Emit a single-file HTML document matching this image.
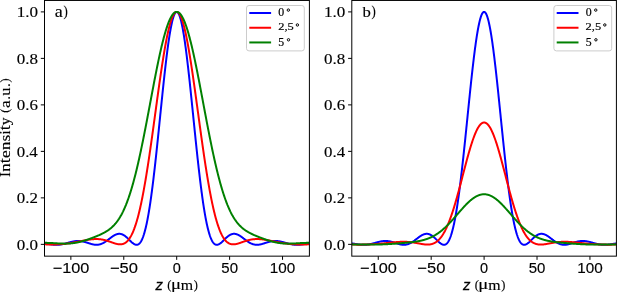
<!DOCTYPE html>
<html><head><meta charset="utf-8"><style>
html,body{margin:0;padding:0;background:#fff;}
body{width:617px;height:294px;position:relative;overflow:hidden;}
</style></head><body>
<svg width="617" height="294" viewBox="0 0 617 294" style="position:absolute;left:0;top:0">
<defs>
<clipPath id="clipa"><rect x="44.5" y="0.45" width="264.90" height="255.70"/></clipPath>
<clipPath id="clipb"><rect x="351.8" y="0.45" width="264.60" height="255.70"/></clipPath>
</defs>
<g clip-path="url(#clipa)" fill="none" stroke-width="2" stroke-linejoin="round" stroke-linecap="butt">
<path d="M44.40,243.39 L44.66,243.43 L44.93,243.47 L45.19,243.51 L45.46,243.55 L45.72,243.59 L45.99,243.63 L46.25,243.67 L46.52,243.71 L46.78,243.75 L47.05,243.80 L47.31,243.84 L47.58,243.88 L47.84,243.92 L48.10,243.97 L48.37,244.01 L48.63,244.05 L48.90,244.09 L49.16,244.13 L49.43,244.17 L49.69,244.21 L49.96,244.25 L50.22,244.29 L50.49,244.33 L50.75,244.37 L51.01,244.40 L51.28,244.44 L51.54,244.47 L51.81,244.50 L52.07,244.53 L52.34,244.56 L52.60,244.59 L52.87,244.62 L53.13,244.64 L53.40,244.67 L53.66,244.69 L53.93,244.71 L54.19,244.73 L54.45,244.74 L54.72,244.76 L54.98,244.77 L55.25,244.78 L55.51,244.79 L55.78,244.79 L56.04,244.80 L56.31,244.80 L56.57,244.80 L56.84,244.80 L57.10,244.79 L57.37,244.78 L57.63,244.77 L57.89,244.76 L58.16,244.75 L58.42,244.73 L58.69,244.71 L58.95,244.69 L59.22,244.66 L59.48,244.64 L59.75,244.61 L60.01,244.58 L60.28,244.54 L60.54,244.51 L60.81,244.47 L61.07,244.43 L61.33,244.39 L61.60,244.34 L61.86,244.30 L62.13,244.25 L62.39,244.20 L62.66,244.15 L62.92,244.09 L63.19,244.03 L63.45,243.98 L63.72,243.92 L63.98,243.86 L64.24,243.79 L64.51,243.73 L64.77,243.66 L65.04,243.60 L65.30,243.53 L65.57,243.46 L65.83,243.39 L66.10,243.32 L66.36,243.25 L66.63,243.17 L66.89,243.10 L67.16,243.03 L67.42,242.95 L67.68,242.88 L67.95,242.81 L68.21,242.73 L68.48,242.66 L68.74,242.58 L69.01,242.51 L69.27,242.44 L69.54,242.36 L69.80,242.29 L70.07,242.22 L70.33,242.15 L70.60,242.08 L70.86,242.01 L71.12,241.95 L71.39,241.88 L71.65,241.82 L71.92,241.75 L72.18,241.69 L72.45,241.63 L72.71,241.58 L72.98,241.52 L73.24,241.47 L73.51,241.42 L73.77,241.37 L74.04,241.32 L74.30,241.28 L74.56,241.24 L74.83,241.20 L75.09,241.16 L75.36,241.13 L75.62,241.10 L75.89,241.07 L76.15,241.05 L76.42,241.02 L76.68,241.01 L76.95,240.99 L77.21,240.98 L77.47,240.97 L77.74,240.96 L78.00,240.96 L78.27,240.96 L78.53,240.97 L78.80,240.97 L79.06,240.99 L79.33,241.00 L79.59,241.02 L79.86,241.04 L80.12,241.06 L80.39,241.09 L80.65,241.12 L80.91,241.15 L81.18,241.19 L81.44,241.23 L81.71,241.27 L81.97,241.32 L82.24,241.37 L82.50,241.42 L82.77,241.48 L83.03,241.53 L83.30,241.59 L83.56,241.66 L83.83,241.72 L84.09,241.79 L84.35,241.86 L84.62,241.93 L84.88,242.00 L85.15,242.08 L85.41,242.16 L85.68,242.23 L85.94,242.31 L86.21,242.40 L86.47,242.48 L86.74,242.56 L87.00,242.65 L87.27,242.73 L87.53,242.82 L87.79,242.90 L88.06,242.99 L88.32,243.07 L88.59,243.16 L88.85,243.25 L89.12,243.33 L89.38,243.42 L89.65,243.50 L89.91,243.58 L90.18,243.66 L90.44,243.74 L90.70,243.82 L90.97,243.90 L91.23,243.97 L91.50,244.05 L91.76,244.12 L92.03,244.18 L92.29,244.25 L92.56,244.31 L92.82,244.37 L93.09,244.43 L93.35,244.48 L93.62,244.53 L93.88,244.57 L94.14,244.62 L94.41,244.65 L94.67,244.69 L94.94,244.72 L95.20,244.74 L95.47,244.76 L95.73,244.78 L96.00,244.79 L96.26,244.80 L96.53,244.80 L96.79,244.80 L97.06,244.79 L97.32,244.77 L97.58,244.75 L97.85,244.73 L98.11,244.70 L98.38,244.66 L98.64,244.62 L98.91,244.57 L99.17,244.52 L99.44,244.46 L99.70,244.40 L99.97,244.33 L100.23,244.25 L100.50,244.17 L100.76,244.09 L101.02,243.99 L101.29,243.89 L101.55,243.79 L101.82,243.68 L102.08,243.57 L102.35,243.45 L102.61,243.32 L102.88,243.19 L103.14,243.05 L103.41,242.91 L103.67,242.77 L103.93,242.62 L104.20,242.46 L104.46,242.30 L104.73,242.14 L104.99,241.97 L105.26,241.80 L105.52,241.62 L105.79,241.45 L106.05,241.26 L106.32,241.08 L106.58,240.89 L106.85,240.70 L107.11,240.51 L107.37,240.31 L107.64,240.11 L107.90,239.91 L108.17,239.71 L108.43,239.51 L108.70,239.31 L108.96,239.11 L109.23,238.90 L109.49,238.70 L109.76,238.50 L110.02,238.29 L110.29,238.09 L110.55,237.89 L110.81,237.69 L111.08,237.49 L111.34,237.30 L111.61,237.10 L111.87,236.91 L112.14,236.73 L112.40,236.54 L112.67,236.36 L112.93,236.18 L113.20,236.01 L113.46,235.84 L113.73,235.68 L113.99,235.52 L114.25,235.37 L114.52,235.22 L114.78,235.08 L115.05,234.94 L115.31,234.82 L115.58,234.69 L115.84,234.58 L116.11,234.47 L116.37,234.37 L116.64,234.28 L116.90,234.19 L117.16,234.11 L117.43,234.04 L117.69,233.98 L117.96,233.93 L118.22,233.89 L118.49,233.86 L118.75,233.83 L119.02,233.82 L119.28,233.81 L119.55,233.81 L119.81,233.83 L120.08,233.85 L120.34,233.88 L120.60,233.92 L120.87,233.97 L121.13,234.03 L121.40,234.10 L121.66,234.18 L121.93,234.27 L122.19,234.37 L122.46,234.48 L122.72,234.60 L122.99,234.73 L123.25,234.86 L123.52,235.01 L123.78,235.16 L124.04,235.33 L124.31,235.50 L124.57,235.68 L124.84,235.86 L125.10,236.06 L125.37,236.26 L125.63,236.47 L125.90,236.68 L126.16,236.91 L126.43,237.13 L126.69,237.37 L126.96,237.60 L127.22,237.85 L127.48,238.09 L127.75,238.35 L128.01,238.60 L128.28,238.86 L128.54,239.12 L128.81,239.38 L129.07,239.64 L129.34,239.90 L129.60,240.17 L129.87,240.43 L130.13,240.69 L130.39,240.95 L130.66,241.21 L130.92,241.46 L131.19,241.71 L131.45,241.96 L131.72,242.20 L131.98,242.44 L132.25,242.66 L132.51,242.89 L132.78,243.10 L133.04,243.30 L133.31,243.50 L133.57,243.68 L133.83,243.85 L134.10,244.02 L134.36,244.16 L134.63,244.30 L134.89,244.42 L135.16,244.53 L135.42,244.62 L135.69,244.69 L135.95,244.74 L136.22,244.78 L136.48,244.80 L136.75,244.80 L137.01,244.77 L137.27,244.73 L137.54,244.66 L137.80,244.57 L138.07,244.46 L138.33,244.32 L138.60,244.16 L138.86,243.97 L139.13,243.75 L139.39,243.50 L139.66,243.23 L139.92,242.93 L140.19,242.60 L140.45,242.23 L140.71,241.84 L140.98,241.42 L141.24,240.96 L141.51,240.47 L141.77,239.94 L142.04,239.38 L142.30,238.79 L142.57,238.16 L142.83,237.49 L143.10,236.79 L143.36,236.05 L143.62,235.28 L143.89,234.47 L144.15,233.62 L144.42,232.73 L144.68,231.80 L144.95,230.83 L145.21,229.82 L145.48,228.78 L145.74,227.69 L146.01,226.57 L146.27,225.40 L146.54,224.19 L146.80,222.95 L147.06,221.66 L147.33,220.33 L147.59,218.97 L147.86,217.56 L148.12,216.11 L148.39,214.62 L148.65,213.09 L148.92,211.53 L149.18,209.92 L149.45,208.27 L149.71,206.59 L149.98,204.86 L150.24,203.10 L150.50,201.30 L150.77,199.46 L151.03,197.59 L151.30,195.68 L151.56,193.73 L151.83,191.75 L152.09,189.73 L152.36,187.68 L152.62,185.59 L152.89,183.48 L153.15,181.33 L153.42,179.15 L153.68,176.94 L153.94,174.70 L154.21,172.43 L154.47,170.14 L154.74,167.81 L155.00,165.47 L155.27,163.10 L155.53,160.70 L155.80,158.28 L156.06,155.84 L156.33,153.38 L156.59,150.91 L156.85,148.41 L157.12,145.90 L157.38,143.37 L157.65,140.83 L157.91,138.28 L158.18,135.71 L158.44,133.13 L158.71,130.55 L158.97,127.96 L159.24,125.36 L159.50,122.76 L159.77,120.15 L160.03,117.55 L160.29,114.94 L160.56,112.34 L160.82,109.73 L161.09,107.13 L161.35,104.54 L161.62,101.96 L161.88,99.38 L162.15,96.81 L162.41,94.26 L162.68,91.72 L162.94,89.19 L163.21,86.68 L163.47,84.19 L163.73,81.72 L164.00,79.26 L164.26,76.84 L164.53,74.43 L164.79,72.05 L165.06,69.70 L165.32,67.37 L165.59,65.08 L165.85,62.82 L166.12,60.59 L166.38,58.39 L166.65,56.23 L166.91,54.11 L167.17,52.03 L167.44,49.98 L167.70,47.98 L167.97,46.02 L168.23,44.10 L168.50,42.23 L168.76,40.40 L169.03,38.62 L169.29,36.89 L169.56,35.21 L169.82,33.58 L170.08,32.01 L170.35,30.48 L170.61,29.01 L170.88,27.60 L171.14,26.24 L171.41,24.93 L171.67,23.69 L171.94,22.50 L172.20,21.38 L172.47,20.31 L172.73,19.31 L173.00,18.36 L173.26,17.48 L173.52,16.66 L173.79,15.91 L174.05,15.21 L174.32,14.59 L174.58,14.03 L174.85,13.53 L175.11,13.10 L175.38,12.73 L175.64,12.43 L175.91,12.20 L176.17,12.03 L176.44,11.93 L176.70,11.90 L176.96,11.93 L177.23,12.03 L177.49,12.20 L177.76,12.43 L178.02,12.73 L178.29,13.10 L178.55,13.53 L178.82,14.03 L179.08,14.59 L179.35,15.21 L179.61,15.91 L179.88,16.66 L180.14,17.48 L180.40,18.36 L180.67,19.31 L180.93,20.31 L181.20,21.38 L181.46,22.50 L181.73,23.69 L181.99,24.93 L182.26,26.24 L182.52,27.60 L182.79,29.01 L183.05,30.48 L183.31,32.01 L183.58,33.58 L183.84,35.21 L184.11,36.89 L184.37,38.62 L184.64,40.40 L184.90,42.23 L185.17,44.10 L185.43,46.02 L185.70,47.98 L185.96,49.98 L186.23,52.03 L186.49,54.11 L186.75,56.23 L187.02,58.39 L187.28,60.59 L187.55,62.82 L187.81,65.08 L188.08,67.37 L188.34,69.70 L188.61,72.05 L188.87,74.43 L189.14,76.84 L189.40,79.26 L189.67,81.72 L189.93,84.19 L190.19,86.68 L190.46,89.19 L190.72,91.72 L190.99,94.26 L191.25,96.81 L191.52,99.38 L191.78,101.96 L192.05,104.54 L192.31,107.13 L192.58,109.73 L192.84,112.34 L193.11,114.94 L193.37,117.55 L193.63,120.15 L193.90,122.76 L194.16,125.36 L194.43,127.96 L194.69,130.55 L194.96,133.13 L195.22,135.71 L195.49,138.28 L195.75,140.83 L196.02,143.37 L196.28,145.90 L196.54,148.41 L196.81,150.91 L197.07,153.38 L197.34,155.84 L197.60,158.28 L197.87,160.70 L198.13,163.10 L198.40,165.47 L198.66,167.81 L198.93,170.14 L199.19,172.43 L199.46,174.70 L199.72,176.94 L199.98,179.15 L200.25,181.33 L200.51,183.48 L200.78,185.59 L201.04,187.68 L201.31,189.73 L201.57,191.75 L201.84,193.73 L202.10,195.68 L202.37,197.59 L202.63,199.46 L202.90,201.30 L203.16,203.10 L203.42,204.86 L203.69,206.59 L203.95,208.27 L204.22,209.92 L204.48,211.53 L204.75,213.09 L205.01,214.62 L205.28,216.11 L205.54,217.56 L205.81,218.97 L206.07,220.33 L206.34,221.66 L206.60,222.95 L206.86,224.19 L207.13,225.40 L207.39,226.57 L207.66,227.69 L207.92,228.78 L208.19,229.82 L208.45,230.83 L208.72,231.80 L208.98,232.73 L209.25,233.62 L209.51,234.47 L209.77,235.28 L210.04,236.05 L210.30,236.79 L210.57,237.49 L210.83,238.16 L211.10,238.79 L211.36,239.38 L211.63,239.94 L211.89,240.47 L212.16,240.96 L212.42,241.42 L212.69,241.84 L212.95,242.23 L213.21,242.60 L213.48,242.93 L213.74,243.23 L214.01,243.50 L214.27,243.75 L214.54,243.97 L214.80,244.16 L215.07,244.32 L215.33,244.46 L215.60,244.57 L215.86,244.66 L216.13,244.73 L216.39,244.77 L216.65,244.80 L216.92,244.80 L217.18,244.78 L217.45,244.74 L217.71,244.69 L217.98,244.62 L218.24,244.53 L218.51,244.42 L218.77,244.30 L219.04,244.16 L219.30,244.02 L219.57,243.85 L219.83,243.68 L220.09,243.50 L220.36,243.30 L220.62,243.10 L220.89,242.89 L221.15,242.66 L221.42,242.44 L221.68,242.20 L221.95,241.96 L222.21,241.71 L222.48,241.46 L222.74,241.21 L223.00,240.95 L223.27,240.69 L223.53,240.43 L223.80,240.17 L224.06,239.90 L224.33,239.64 L224.59,239.38 L224.86,239.12 L225.12,238.86 L225.39,238.60 L225.65,238.35 L225.92,238.09 L226.18,237.85 L226.44,237.60 L226.71,237.37 L226.97,237.13 L227.24,236.91 L227.50,236.68 L227.77,236.47 L228.03,236.26 L228.30,236.06 L228.56,235.86 L228.83,235.68 L229.09,235.50 L229.36,235.33 L229.62,235.16 L229.88,235.01 L230.15,234.86 L230.41,234.73 L230.68,234.60 L230.94,234.48 L231.21,234.37 L231.47,234.27 L231.74,234.18 L232.00,234.10 L232.27,234.03 L232.53,233.97 L232.80,233.92 L233.06,233.88 L233.32,233.85 L233.59,233.83 L233.85,233.81 L234.12,233.81 L234.38,233.82 L234.65,233.83 L234.91,233.86 L235.18,233.89 L235.44,233.93 L235.71,233.98 L235.97,234.04 L236.23,234.11 L236.50,234.19 L236.76,234.28 L237.03,234.37 L237.29,234.47 L237.56,234.58 L237.82,234.69 L238.09,234.82 L238.35,234.94 L238.62,235.08 L238.88,235.22 L239.15,235.37 L239.41,235.52 L239.67,235.68 L239.94,235.84 L240.20,236.01 L240.47,236.18 L240.73,236.36 L241.00,236.54 L241.26,236.73 L241.53,236.91 L241.79,237.10 L242.06,237.30 L242.32,237.49 L242.59,237.69 L242.85,237.89 L243.11,238.09 L243.38,238.29 L243.64,238.50 L243.91,238.70 L244.17,238.90 L244.44,239.11 L244.70,239.31 L244.97,239.51 L245.23,239.71 L245.50,239.91 L245.76,240.11 L246.03,240.31 L246.29,240.51 L246.55,240.70 L246.82,240.89 L247.08,241.08 L247.35,241.26 L247.61,241.45 L247.88,241.62 L248.14,241.80 L248.41,241.97 L248.67,242.14 L248.94,242.30 L249.20,242.46 L249.46,242.62 L249.73,242.77 L249.99,242.91 L250.26,243.05 L250.52,243.19 L250.79,243.32 L251.05,243.45 L251.32,243.57 L251.58,243.68 L251.85,243.79 L252.11,243.89 L252.38,243.99 L252.64,244.09 L252.90,244.17 L253.17,244.25 L253.43,244.33 L253.70,244.40 L253.96,244.46 L254.23,244.52 L254.49,244.57 L254.76,244.62 L255.02,244.66 L255.29,244.70 L255.55,244.73 L255.82,244.75 L256.08,244.77 L256.34,244.79 L256.61,244.80 L256.87,244.80 L257.14,244.80 L257.40,244.79 L257.67,244.78 L257.93,244.76 L258.20,244.74 L258.46,244.72 L258.73,244.69 L258.99,244.65 L259.26,244.62 L259.52,244.57 L259.78,244.53 L260.05,244.48 L260.31,244.43 L260.58,244.37 L260.84,244.31 L261.11,244.25 L261.37,244.18 L261.64,244.12 L261.90,244.05 L262.17,243.97 L262.43,243.90 L262.69,243.82 L262.96,243.74 L263.22,243.66 L263.49,243.58 L263.75,243.50 L264.02,243.42 L264.28,243.33 L264.55,243.25 L264.81,243.16 L265.08,243.07 L265.34,242.99 L265.61,242.90 L265.87,242.82 L266.13,242.73 L266.40,242.65 L266.66,242.56 L266.93,242.48 L267.19,242.40 L267.46,242.31 L267.72,242.23 L267.99,242.16 L268.25,242.08 L268.52,242.00 L268.78,241.93 L269.05,241.86 L269.31,241.79 L269.57,241.72 L269.84,241.66 L270.10,241.59 L270.37,241.53 L270.63,241.48 L270.90,241.42 L271.16,241.37 L271.43,241.32 L271.69,241.27 L271.96,241.23 L272.22,241.19 L272.49,241.15 L272.75,241.12 L273.01,241.09 L273.28,241.06 L273.54,241.04 L273.81,241.02 L274.07,241.00 L274.34,240.99 L274.60,240.97 L274.87,240.97 L275.13,240.96 L275.40,240.96 L275.66,240.96 L275.92,240.97 L276.19,240.98 L276.45,240.99 L276.72,241.01 L276.98,241.02 L277.25,241.05 L277.51,241.07 L277.78,241.10 L278.04,241.13 L278.31,241.16 L278.57,241.20 L278.84,241.24 L279.10,241.28 L279.36,241.32 L279.63,241.37 L279.89,241.42 L280.16,241.47 L280.42,241.52 L280.69,241.58 L280.95,241.63 L281.22,241.69 L281.48,241.75 L281.75,241.82 L282.01,241.88 L282.28,241.95 L282.54,242.01 L282.80,242.08 L283.07,242.15 L283.33,242.22 L283.60,242.29 L283.86,242.36 L284.13,242.44 L284.39,242.51 L284.66,242.58 L284.92,242.66 L285.19,242.73 L285.45,242.81 L285.72,242.88 L285.98,242.95 L286.24,243.03 L286.51,243.10 L286.77,243.17 L287.04,243.25 L287.30,243.32 L287.57,243.39 L287.83,243.46 L288.10,243.53 L288.36,243.60 L288.63,243.66 L288.89,243.73 L289.15,243.79 L289.42,243.86 L289.68,243.92 L289.95,243.98 L290.21,244.03 L290.48,244.09 L290.74,244.15 L291.01,244.20 L291.27,244.25 L291.54,244.30 L291.80,244.34 L292.07,244.39 L292.33,244.43 L292.59,244.47 L292.86,244.51 L293.12,244.54 L293.39,244.58 L293.65,244.61 L293.92,244.64 L294.18,244.66 L294.45,244.69 L294.71,244.71 L294.98,244.73 L295.24,244.75 L295.51,244.76 L295.77,244.77 L296.03,244.78 L296.30,244.79 L296.56,244.80 L296.83,244.80 L297.09,244.80 L297.36,244.80 L297.62,244.79 L297.89,244.79 L298.15,244.78 L298.42,244.77 L298.68,244.76 L298.95,244.74 L299.21,244.73 L299.47,244.71 L299.74,244.69 L300.00,244.67 L300.27,244.64 L300.53,244.62 L300.80,244.59 L301.06,244.56 L301.33,244.53 L301.59,244.50 L301.86,244.47 L302.12,244.44 L302.38,244.40 L302.65,244.37 L302.91,244.33 L303.18,244.29 L303.44,244.25 L303.71,244.21 L303.97,244.17 L304.24,244.13 L304.50,244.09 L304.77,244.05 L305.03,244.01 L305.30,243.97 L305.56,243.92 L305.82,243.88 L306.09,243.84 L306.35,243.80 L306.62,243.75 L306.88,243.71 L307.15,243.67 L307.41,243.63 L307.68,243.59 L307.94,243.55 L308.21,243.51 L308.47,243.47 L308.74,243.43 L309.00,243.39" stroke="#0000ff"/>
<path d="M44.40,244.30 L44.66,244.31 L44.93,244.32 L45.19,244.34 L45.46,244.35 L45.72,244.36 L45.99,244.37 L46.25,244.38 L46.52,244.39 L46.78,244.40 L47.05,244.41 L47.31,244.42 L47.58,244.43 L47.84,244.44 L48.10,244.44 L48.37,244.45 L48.63,244.46 L48.90,244.46 L49.16,244.47 L49.43,244.47 L49.69,244.48 L49.96,244.48 L50.22,244.49 L50.49,244.49 L50.75,244.49 L51.01,244.49 L51.28,244.49 L51.54,244.49 L51.81,244.49 L52.07,244.49 L52.34,244.49 L52.60,244.49 L52.87,244.49 L53.13,244.49 L53.40,244.48 L53.66,244.48 L53.93,244.48 L54.19,244.47 L54.45,244.47 L54.72,244.46 L54.98,244.45 L55.25,244.45 L55.51,244.44 L55.78,244.43 L56.04,244.42 L56.31,244.41 L56.57,244.40 L56.84,244.39 L57.10,244.38 L57.37,244.37 L57.63,244.36 L57.89,244.35 L58.16,244.33 L58.42,244.32 L58.69,244.30 L58.95,244.29 L59.22,244.27 L59.48,244.26 L59.75,244.24 L60.01,244.22 L60.28,244.21 L60.54,244.19 L60.81,244.17 L61.07,244.15 L61.33,244.13 L61.60,244.11 L61.86,244.09 L62.13,244.07 L62.39,244.04 L62.66,244.02 L62.92,244.00 L63.19,243.97 L63.45,243.95 L63.72,243.92 L63.98,243.90 L64.24,243.87 L64.51,243.84 L64.77,243.81 L65.04,243.79 L65.30,243.76 L65.57,243.73 L65.83,243.70 L66.10,243.67 L66.36,243.64 L66.63,243.60 L66.89,243.57 L67.16,243.54 L67.42,243.51 L67.68,243.47 L67.95,243.44 L68.21,243.40 L68.48,243.37 L68.74,243.33 L69.01,243.29 L69.27,243.26 L69.54,243.22 L69.80,243.18 L70.07,243.14 L70.33,243.10 L70.60,243.06 L70.86,243.02 L71.12,242.98 L71.39,242.94 L71.65,242.89 L71.92,242.85 L72.18,242.81 L72.45,242.76 L72.71,242.72 L72.98,242.67 L73.24,242.63 L73.51,242.58 L73.77,242.54 L74.04,242.49 L74.30,242.44 L74.56,242.40 L74.83,242.35 L75.09,242.30 L75.36,242.25 L75.62,242.20 L75.89,242.15 L76.15,242.10 L76.42,242.05 L76.68,242.00 L76.95,241.95 L77.21,241.90 L77.47,241.85 L77.74,241.80 L78.00,241.74 L78.27,241.69 L78.53,241.64 L78.80,241.59 L79.06,241.53 L79.33,241.48 L79.59,241.43 L79.86,241.37 L80.12,241.32 L80.39,241.27 L80.65,241.21 L80.91,241.16 L81.18,241.11 L81.44,241.05 L81.71,241.00 L81.97,240.95 L82.24,240.89 L82.50,240.84 L82.77,240.79 L83.03,240.74 L83.30,240.68 L83.56,240.63 L83.83,240.58 L84.09,240.53 L84.35,240.48 L84.62,240.42 L84.88,240.37 L85.15,240.32 L85.41,240.27 L85.68,240.22 L85.94,240.18 L86.21,240.13 L86.47,240.08 L86.74,240.03 L87.00,239.99 L87.27,239.94 L87.53,239.90 L87.79,239.85 L88.06,239.81 L88.32,239.77 L88.59,239.72 L88.85,239.68 L89.12,239.64 L89.38,239.60 L89.65,239.57 L89.91,239.53 L90.18,239.49 L90.44,239.46 L90.70,239.42 L90.97,239.39 L91.23,239.36 L91.50,239.33 L91.76,239.30 L92.03,239.28 L92.29,239.25 L92.56,239.23 L92.82,239.20 L93.09,239.18 L93.35,239.16 L93.62,239.14 L93.88,239.13 L94.14,239.11 L94.41,239.10 L94.67,239.09 L94.94,239.08 L95.20,239.07 L95.47,239.06 L95.73,239.06 L96.00,239.05 L96.26,239.05 L96.53,239.05 L96.79,239.06 L97.06,239.06 L97.32,239.07 L97.58,239.08 L97.85,239.09 L98.11,239.10 L98.38,239.11 L98.64,239.13 L98.91,239.15 L99.17,239.17 L99.44,239.19 L99.70,239.22 L99.97,239.25 L100.23,239.28 L100.50,239.31 L100.76,239.34 L101.02,239.38 L101.29,239.42 L101.55,239.46 L101.82,239.50 L102.08,239.54 L102.35,239.59 L102.61,239.64 L102.88,239.69 L103.14,239.74 L103.41,239.80 L103.67,239.86 L103.93,239.91 L104.20,239.98 L104.46,240.04 L104.73,240.10 L104.99,240.17 L105.26,240.24 L105.52,240.31 L105.79,240.38 L106.05,240.46 L106.32,240.53 L106.58,240.61 L106.85,240.69 L107.11,240.77 L107.37,240.85 L107.64,240.94 L107.90,241.02 L108.17,241.11 L108.43,241.20 L108.70,241.28 L108.96,241.37 L109.23,241.46 L109.49,241.56 L109.76,241.65 L110.02,241.74 L110.29,241.83 L110.55,241.93 L110.81,242.02 L111.08,242.11 L111.34,242.21 L111.61,242.30 L111.87,242.40 L112.14,242.49 L112.40,242.58 L112.67,242.68 L112.93,242.77 L113.20,242.86 L113.46,242.95 L113.73,243.04 L113.99,243.13 L114.25,243.21 L114.52,243.30 L114.78,243.38 L115.05,243.46 L115.31,243.54 L115.58,243.61 L115.84,243.69 L116.11,243.76 L116.37,243.83 L116.64,243.89 L116.90,243.95 L117.16,244.01 L117.43,244.07 L117.69,244.12 L117.96,244.16 L118.22,244.20 L118.49,244.24 L118.75,244.27 L119.02,244.30 L119.28,244.32 L119.55,244.34 L119.81,244.35 L120.08,244.35 L120.34,244.35 L120.60,244.34 L120.87,244.33 L121.13,244.31 L121.40,244.28 L121.66,244.24 L121.93,244.20 L122.19,244.14 L122.46,244.08 L122.72,244.01 L122.99,243.93 L123.25,243.85 L123.52,243.75 L123.78,243.64 L124.04,243.53 L124.31,243.40 L124.57,243.27 L124.84,243.12 L125.10,242.96 L125.37,242.79 L125.63,242.61 L125.90,242.42 L126.16,242.21 L126.43,241.99 L126.69,241.76 L126.96,241.52 L127.22,241.26 L127.48,240.99 L127.75,240.71 L128.01,240.41 L128.28,240.10 L128.54,239.77 L128.81,239.43 L129.07,239.08 L129.34,238.71 L129.60,238.32 L129.87,237.92 L130.13,237.50 L130.39,237.06 L130.66,236.61 L130.92,236.14 L131.19,235.66 L131.45,235.15 L131.72,234.64 L131.98,234.10 L132.25,233.54 L132.51,232.97 L132.78,232.38 L133.04,231.77 L133.31,231.14 L133.57,230.49 L133.83,229.82 L134.10,229.14 L134.36,228.43 L134.63,227.71 L134.89,226.96 L135.16,226.20 L135.42,225.41 L135.69,224.61 L135.95,223.78 L136.22,222.94 L136.48,222.07 L136.75,221.18 L137.01,220.28 L137.27,219.35 L137.54,218.40 L137.80,217.43 L138.07,216.44 L138.33,215.43 L138.60,214.40 L138.86,213.34 L139.13,212.27 L139.39,211.17 L139.66,210.06 L139.92,208.92 L140.19,207.76 L140.45,206.58 L140.71,205.38 L140.98,204.16 L141.24,202.92 L141.51,201.65 L141.77,200.37 L142.04,199.07 L142.30,197.74 L142.57,196.40 L142.83,195.03 L143.10,193.65 L143.36,192.25 L143.62,190.82 L143.89,189.38 L144.15,187.91 L144.42,186.43 L144.68,184.93 L144.95,183.41 L145.21,181.88 L145.48,180.32 L145.74,178.75 L146.01,177.16 L146.27,175.55 L146.54,173.92 L146.80,172.28 L147.06,170.62 L147.33,168.95 L147.59,167.26 L147.86,165.56 L148.12,163.84 L148.39,162.10 L148.65,160.35 L148.92,158.59 L149.18,156.82 L149.45,155.03 L149.71,153.23 L149.98,151.42 L150.24,149.59 L150.50,147.76 L150.77,145.91 L151.03,144.06 L151.30,142.20 L151.56,140.32 L151.83,138.44 L152.09,136.55 L152.36,134.65 L152.62,132.75 L152.89,130.84 L153.15,128.92 L153.42,127.00 L153.68,125.08 L153.94,123.15 L154.21,121.22 L154.47,119.28 L154.74,117.34 L155.00,115.41 L155.27,113.47 L155.53,111.53 L155.80,109.59 L156.06,107.65 L156.33,105.71 L156.59,103.78 L156.85,101.85 L157.12,99.92 L157.38,97.99 L157.65,96.08 L157.91,94.16 L158.18,92.26 L158.44,90.36 L158.71,88.47 L158.97,86.58 L159.24,84.71 L159.50,82.85 L159.77,80.99 L160.03,79.15 L160.29,77.32 L160.56,75.50 L160.82,73.69 L161.09,71.90 L161.35,70.13 L161.62,68.36 L161.88,66.62 L162.15,64.89 L162.41,63.18 L162.68,61.48 L162.94,59.81 L163.21,58.15 L163.47,56.52 L163.73,54.90 L164.00,53.31 L164.26,51.73 L164.53,50.18 L164.79,48.66 L165.06,47.15 L165.32,45.67 L165.59,44.22 L165.85,42.79 L166.12,41.39 L166.38,40.01 L166.65,38.66 L166.91,37.34 L167.17,36.04 L167.44,34.78 L167.70,33.54 L167.97,32.34 L168.23,31.16 L168.50,30.02 L168.76,28.91 L169.03,27.83 L169.29,26.78 L169.56,25.76 L169.82,24.78 L170.08,23.83 L170.35,22.91 L170.61,22.03 L170.88,21.18 L171.14,20.37 L171.41,19.60 L171.67,18.86 L171.94,18.15 L172.20,17.48 L172.47,16.85 L172.73,16.26 L173.00,15.70 L173.26,15.18 L173.52,14.70 L173.79,14.25 L174.05,13.84 L174.32,13.48 L174.58,13.15 L174.85,12.85 L175.11,12.60 L175.38,12.39 L175.64,12.21 L175.91,12.08 L176.17,11.98 L176.44,11.92 L176.70,11.90 L176.96,11.92 L177.23,11.98 L177.49,12.08 L177.76,12.21 L178.02,12.39 L178.29,12.60 L178.55,12.85 L178.82,13.15 L179.08,13.48 L179.35,13.84 L179.61,14.25 L179.88,14.70 L180.14,15.18 L180.40,15.70 L180.67,16.26 L180.93,16.85 L181.20,17.48 L181.46,18.15 L181.73,18.86 L181.99,19.60 L182.26,20.37 L182.52,21.18 L182.79,22.03 L183.05,22.91 L183.31,23.83 L183.58,24.78 L183.84,25.76 L184.11,26.78 L184.37,27.83 L184.64,28.91 L184.90,30.02 L185.17,31.16 L185.43,32.34 L185.70,33.54 L185.96,34.78 L186.23,36.04 L186.49,37.34 L186.75,38.66 L187.02,40.01 L187.28,41.39 L187.55,42.79 L187.81,44.22 L188.08,45.67 L188.34,47.15 L188.61,48.66 L188.87,50.18 L189.14,51.73 L189.40,53.31 L189.67,54.90 L189.93,56.52 L190.19,58.15 L190.46,59.81 L190.72,61.48 L190.99,63.18 L191.25,64.89 L191.52,66.62 L191.78,68.36 L192.05,70.13 L192.31,71.90 L192.58,73.69 L192.84,75.50 L193.11,77.32 L193.37,79.15 L193.63,80.99 L193.90,82.85 L194.16,84.71 L194.43,86.58 L194.69,88.47 L194.96,90.36 L195.22,92.26 L195.49,94.16 L195.75,96.08 L196.02,97.99 L196.28,99.92 L196.54,101.85 L196.81,103.78 L197.07,105.71 L197.34,107.65 L197.60,109.59 L197.87,111.53 L198.13,113.47 L198.40,115.41 L198.66,117.34 L198.93,119.28 L199.19,121.22 L199.46,123.15 L199.72,125.08 L199.98,127.00 L200.25,128.92 L200.51,130.84 L200.78,132.75 L201.04,134.65 L201.31,136.55 L201.57,138.44 L201.84,140.32 L202.10,142.20 L202.37,144.06 L202.63,145.91 L202.90,147.76 L203.16,149.59 L203.42,151.42 L203.69,153.23 L203.95,155.03 L204.22,156.82 L204.48,158.59 L204.75,160.35 L205.01,162.10 L205.28,163.84 L205.54,165.56 L205.81,167.26 L206.07,168.95 L206.34,170.62 L206.60,172.28 L206.86,173.92 L207.13,175.55 L207.39,177.16 L207.66,178.75 L207.92,180.32 L208.19,181.88 L208.45,183.41 L208.72,184.93 L208.98,186.43 L209.25,187.91 L209.51,189.38 L209.77,190.82 L210.04,192.25 L210.30,193.65 L210.57,195.03 L210.83,196.40 L211.10,197.74 L211.36,199.07 L211.63,200.37 L211.89,201.65 L212.16,202.92 L212.42,204.16 L212.69,205.38 L212.95,206.58 L213.21,207.76 L213.48,208.92 L213.74,210.06 L214.01,211.17 L214.27,212.27 L214.54,213.34 L214.80,214.40 L215.07,215.43 L215.33,216.44 L215.60,217.43 L215.86,218.40 L216.13,219.35 L216.39,220.28 L216.65,221.18 L216.92,222.07 L217.18,222.94 L217.45,223.78 L217.71,224.61 L217.98,225.41 L218.24,226.20 L218.51,226.96 L218.77,227.71 L219.04,228.43 L219.30,229.14 L219.57,229.82 L219.83,230.49 L220.09,231.14 L220.36,231.77 L220.62,232.38 L220.89,232.97 L221.15,233.54 L221.42,234.10 L221.68,234.64 L221.95,235.15 L222.21,235.66 L222.48,236.14 L222.74,236.61 L223.00,237.06 L223.27,237.50 L223.53,237.92 L223.80,238.32 L224.06,238.71 L224.33,239.08 L224.59,239.43 L224.86,239.77 L225.12,240.10 L225.39,240.41 L225.65,240.71 L225.92,240.99 L226.18,241.26 L226.44,241.52 L226.71,241.76 L226.97,241.99 L227.24,242.21 L227.50,242.42 L227.77,242.61 L228.03,242.79 L228.30,242.96 L228.56,243.12 L228.83,243.27 L229.09,243.40 L229.36,243.53 L229.62,243.64 L229.88,243.75 L230.15,243.85 L230.41,243.93 L230.68,244.01 L230.94,244.08 L231.21,244.14 L231.47,244.20 L231.74,244.24 L232.00,244.28 L232.27,244.31 L232.53,244.33 L232.80,244.34 L233.06,244.35 L233.32,244.35 L233.59,244.35 L233.85,244.34 L234.12,244.32 L234.38,244.30 L234.65,244.27 L234.91,244.24 L235.18,244.20 L235.44,244.16 L235.71,244.12 L235.97,244.07 L236.23,244.01 L236.50,243.95 L236.76,243.89 L237.03,243.83 L237.29,243.76 L237.56,243.69 L237.82,243.61 L238.09,243.54 L238.35,243.46 L238.62,243.38 L238.88,243.30 L239.15,243.21 L239.41,243.13 L239.67,243.04 L239.94,242.95 L240.20,242.86 L240.47,242.77 L240.73,242.68 L241.00,242.58 L241.26,242.49 L241.53,242.40 L241.79,242.30 L242.06,242.21 L242.32,242.11 L242.59,242.02 L242.85,241.93 L243.11,241.83 L243.38,241.74 L243.64,241.65 L243.91,241.56 L244.17,241.46 L244.44,241.37 L244.70,241.28 L244.97,241.20 L245.23,241.11 L245.50,241.02 L245.76,240.94 L246.03,240.85 L246.29,240.77 L246.55,240.69 L246.82,240.61 L247.08,240.53 L247.35,240.46 L247.61,240.38 L247.88,240.31 L248.14,240.24 L248.41,240.17 L248.67,240.10 L248.94,240.04 L249.20,239.98 L249.46,239.91 L249.73,239.86 L249.99,239.80 L250.26,239.74 L250.52,239.69 L250.79,239.64 L251.05,239.59 L251.32,239.54 L251.58,239.50 L251.85,239.46 L252.11,239.42 L252.38,239.38 L252.64,239.34 L252.90,239.31 L253.17,239.28 L253.43,239.25 L253.70,239.22 L253.96,239.19 L254.23,239.17 L254.49,239.15 L254.76,239.13 L255.02,239.11 L255.29,239.10 L255.55,239.09 L255.82,239.08 L256.08,239.07 L256.34,239.06 L256.61,239.06 L256.87,239.05 L257.14,239.05 L257.40,239.05 L257.67,239.06 L257.93,239.06 L258.20,239.07 L258.46,239.08 L258.73,239.09 L258.99,239.10 L259.26,239.11 L259.52,239.13 L259.78,239.14 L260.05,239.16 L260.31,239.18 L260.58,239.20 L260.84,239.23 L261.11,239.25 L261.37,239.28 L261.64,239.30 L261.90,239.33 L262.17,239.36 L262.43,239.39 L262.69,239.42 L262.96,239.46 L263.22,239.49 L263.49,239.53 L263.75,239.57 L264.02,239.60 L264.28,239.64 L264.55,239.68 L264.81,239.72 L265.08,239.77 L265.34,239.81 L265.61,239.85 L265.87,239.90 L266.13,239.94 L266.40,239.99 L266.66,240.03 L266.93,240.08 L267.19,240.13 L267.46,240.18 L267.72,240.22 L267.99,240.27 L268.25,240.32 L268.52,240.37 L268.78,240.42 L269.05,240.48 L269.31,240.53 L269.57,240.58 L269.84,240.63 L270.10,240.68 L270.37,240.74 L270.63,240.79 L270.90,240.84 L271.16,240.89 L271.43,240.95 L271.69,241.00 L271.96,241.05 L272.22,241.11 L272.49,241.16 L272.75,241.21 L273.01,241.27 L273.28,241.32 L273.54,241.37 L273.81,241.43 L274.07,241.48 L274.34,241.53 L274.60,241.59 L274.87,241.64 L275.13,241.69 L275.40,241.74 L275.66,241.80 L275.92,241.85 L276.19,241.90 L276.45,241.95 L276.72,242.00 L276.98,242.05 L277.25,242.10 L277.51,242.15 L277.78,242.20 L278.04,242.25 L278.31,242.30 L278.57,242.35 L278.84,242.40 L279.10,242.44 L279.36,242.49 L279.63,242.54 L279.89,242.58 L280.16,242.63 L280.42,242.67 L280.69,242.72 L280.95,242.76 L281.22,242.81 L281.48,242.85 L281.75,242.89 L282.01,242.94 L282.28,242.98 L282.54,243.02 L282.80,243.06 L283.07,243.10 L283.33,243.14 L283.60,243.18 L283.86,243.22 L284.13,243.26 L284.39,243.29 L284.66,243.33 L284.92,243.37 L285.19,243.40 L285.45,243.44 L285.72,243.47 L285.98,243.51 L286.24,243.54 L286.51,243.57 L286.77,243.60 L287.04,243.64 L287.30,243.67 L287.57,243.70 L287.83,243.73 L288.10,243.76 L288.36,243.79 L288.63,243.81 L288.89,243.84 L289.15,243.87 L289.42,243.90 L289.68,243.92 L289.95,243.95 L290.21,243.97 L290.48,244.00 L290.74,244.02 L291.01,244.04 L291.27,244.07 L291.54,244.09 L291.80,244.11 L292.07,244.13 L292.33,244.15 L292.59,244.17 L292.86,244.19 L293.12,244.21 L293.39,244.22 L293.65,244.24 L293.92,244.26 L294.18,244.27 L294.45,244.29 L294.71,244.30 L294.98,244.32 L295.24,244.33 L295.51,244.35 L295.77,244.36 L296.03,244.37 L296.30,244.38 L296.56,244.39 L296.83,244.40 L297.09,244.41 L297.36,244.42 L297.62,244.43 L297.89,244.44 L298.15,244.45 L298.42,244.45 L298.68,244.46 L298.95,244.47 L299.21,244.47 L299.47,244.48 L299.74,244.48 L300.00,244.48 L300.27,244.49 L300.53,244.49 L300.80,244.49 L301.06,244.49 L301.33,244.49 L301.59,244.49 L301.86,244.49 L302.12,244.49 L302.38,244.49 L302.65,244.49 L302.91,244.49 L303.18,244.49 L303.44,244.48 L303.71,244.48 L303.97,244.47 L304.24,244.47 L304.50,244.46 L304.77,244.46 L305.03,244.45 L305.30,244.44 L305.56,244.44 L305.82,244.43 L306.09,244.42 L306.35,244.41 L306.62,244.40 L306.88,244.39 L307.15,244.38 L307.41,244.37 L307.68,244.36 L307.94,244.35 L308.21,244.34 L308.47,244.32 L308.74,244.31 L309.00,244.30" stroke="#ff0000"/>
<path d="M44.40,242.83 L44.66,242.83 L44.93,242.84 L45.19,242.84 L45.46,242.84 L45.72,242.85 L45.99,242.85 L46.25,242.85 L46.52,242.86 L46.78,242.86 L47.05,242.87 L47.31,242.88 L47.58,242.88 L47.84,242.89 L48.10,242.90 L48.37,242.91 L48.63,242.92 L48.90,242.93 L49.16,242.94 L49.43,242.95 L49.69,242.96 L49.96,242.97 L50.22,242.98 L50.49,242.99 L50.75,243.00 L51.01,243.02 L51.28,243.03 L51.54,243.04 L51.81,243.05 L52.07,243.07 L52.34,243.08 L52.60,243.10 L52.87,243.11 L53.13,243.12 L53.40,243.14 L53.66,243.15 L53.93,243.17 L54.19,243.19 L54.45,243.20 L54.72,243.22 L54.98,243.23 L55.25,243.25 L55.51,243.26 L55.78,243.28 L56.04,243.29 L56.31,243.31 L56.57,243.32 L56.84,243.34 L57.10,243.35 L57.37,243.37 L57.63,243.38 L57.89,243.40 L58.16,243.41 L58.42,243.43 L58.69,243.44 L58.95,243.46 L59.22,243.47 L59.48,243.48 L59.75,243.49 L60.01,243.51 L60.28,243.52 L60.54,243.53 L60.81,243.54 L61.07,243.55 L61.33,243.56 L61.60,243.57 L61.86,243.58 L62.13,243.59 L62.39,243.60 L62.66,243.60 L62.92,243.61 L63.19,243.61 L63.45,243.62 L63.72,243.62 L63.98,243.63 L64.24,243.63 L64.51,243.63 L64.77,243.63 L65.04,243.63 L65.30,243.63 L65.57,243.63 L65.83,243.63 L66.10,243.62 L66.36,243.62 L66.63,243.61 L66.89,243.61 L67.16,243.60 L67.42,243.59 L67.68,243.58 L67.95,243.57 L68.21,243.56 L68.48,243.55 L68.74,243.53 L69.01,243.52 L69.27,243.50 L69.54,243.48 L69.80,243.46 L70.07,243.44 L70.33,243.42 L70.60,243.40 L70.86,243.38 L71.12,243.35 L71.39,243.33 L71.65,243.30 L71.92,243.27 L72.18,243.25 L72.45,243.22 L72.71,243.18 L72.98,243.15 L73.24,243.12 L73.51,243.08 L73.77,243.04 L74.04,243.01 L74.30,242.97 L74.56,242.93 L74.83,242.89 L75.09,242.84 L75.36,242.80 L75.62,242.75 L75.89,242.71 L76.15,242.66 L76.42,242.61 L76.68,242.56 L76.95,242.51 L77.21,242.46 L77.47,242.40 L77.74,242.35 L78.00,242.29 L78.27,242.23 L78.53,242.17 L78.80,242.11 L79.06,242.05 L79.33,241.99 L79.59,241.93 L79.86,241.86 L80.12,241.80 L80.39,241.73 L80.65,241.67 L80.91,241.60 L81.18,241.53 L81.44,241.46 L81.71,241.38 L81.97,241.31 L82.24,241.24 L82.50,241.16 L82.77,241.09 L83.03,241.01 L83.30,240.94 L83.56,240.86 L83.83,240.78 L84.09,240.70 L84.35,240.62 L84.62,240.54 L84.88,240.45 L85.15,240.37 L85.41,240.29 L85.68,240.20 L85.94,240.12 L86.21,240.03 L86.47,239.94 L86.74,239.86 L87.00,239.77 L87.27,239.68 L87.53,239.59 L87.79,239.50 L88.06,239.41 L88.32,239.32 L88.59,239.22 L88.85,239.13 L89.12,239.04 L89.38,238.94 L89.65,238.85 L89.91,238.75 L90.18,238.66 L90.44,238.56 L90.70,238.47 L90.97,238.37 L91.23,238.27 L91.50,238.17 L91.76,238.08 L92.03,237.98 L92.29,237.88 L92.56,237.78 L92.82,237.68 L93.09,237.57 L93.35,237.47 L93.62,237.37 L93.88,237.27 L94.14,237.16 L94.41,237.06 L94.67,236.96 L94.94,236.85 L95.20,236.75 L95.47,236.64 L95.73,236.53 L96.00,236.43 L96.26,236.32 L96.53,236.21 L96.79,236.10 L97.06,235.99 L97.32,235.88 L97.58,235.77 L97.85,235.66 L98.11,235.54 L98.38,235.43 L98.64,235.31 L98.91,235.20 L99.17,235.08 L99.44,234.97 L99.70,234.85 L99.97,234.73 L100.23,234.61 L100.50,234.49 L100.76,234.36 L101.02,234.24 L101.29,234.11 L101.55,233.99 L101.82,233.86 L102.08,233.73 L102.35,233.60 L102.61,233.47 L102.88,233.33 L103.14,233.20 L103.41,233.06 L103.67,232.92 L103.93,232.78 L104.20,232.64 L104.46,232.49 L104.73,232.34 L104.99,232.20 L105.26,232.04 L105.52,231.89 L105.79,231.73 L106.05,231.58 L106.32,231.41 L106.58,231.25 L106.85,231.08 L107.11,230.91 L107.37,230.74 L107.64,230.57 L107.90,230.39 L108.17,230.21 L108.43,230.02 L108.70,229.84 L108.96,229.64 L109.23,229.45 L109.49,229.25 L109.76,229.05 L110.02,228.84 L110.29,228.63 L110.55,228.42 L110.81,228.20 L111.08,227.98 L111.34,227.75 L111.61,227.52 L111.87,227.28 L112.14,227.04 L112.40,226.79 L112.67,226.54 L112.93,226.29 L113.20,226.02 L113.46,225.76 L113.73,225.49 L113.99,225.21 L114.25,224.92 L114.52,224.64 L114.78,224.34 L115.05,224.04 L115.31,223.73 L115.58,223.42 L115.84,223.10 L116.11,222.77 L116.37,222.44 L116.64,222.10 L116.90,221.75 L117.16,221.40 L117.43,221.04 L117.69,220.67 L117.96,220.29 L118.22,219.91 L118.49,219.52 L118.75,219.12 L119.02,218.72 L119.28,218.30 L119.55,217.88 L119.81,217.45 L120.08,217.01 L120.34,216.56 L120.60,216.11 L120.87,215.64 L121.13,215.17 L121.40,214.69 L121.66,214.20 L121.93,213.70 L122.19,213.19 L122.46,212.67 L122.72,212.14 L122.99,211.61 L123.25,211.06 L123.52,210.50 L123.78,209.94 L124.04,209.36 L124.31,208.77 L124.57,208.18 L124.84,207.57 L125.10,206.96 L125.37,206.33 L125.63,205.69 L125.90,205.05 L126.16,204.39 L126.43,203.72 L126.69,203.04 L126.96,202.35 L127.22,201.65 L127.48,200.94 L127.75,200.22 L128.01,199.48 L128.28,198.74 L128.54,197.98 L128.81,197.22 L129.07,196.44 L129.34,195.65 L129.60,194.85 L129.87,194.04 L130.13,193.22 L130.39,192.39 L130.66,191.54 L130.92,190.69 L131.19,189.82 L131.45,188.94 L131.72,188.05 L131.98,187.15 L132.25,186.24 L132.51,185.32 L132.78,184.38 L133.04,183.44 L133.31,182.48 L133.57,181.52 L133.83,180.54 L134.10,179.55 L134.36,178.55 L134.63,177.54 L134.89,176.51 L135.16,175.48 L135.42,174.44 L135.69,173.38 L135.95,172.31 L136.22,171.24 L136.48,170.15 L136.75,169.05 L137.01,167.95 L137.27,166.83 L137.54,165.70 L137.80,164.56 L138.07,163.42 L138.33,162.26 L138.60,161.09 L138.86,159.92 L139.13,158.73 L139.39,157.53 L139.66,156.33 L139.92,155.12 L140.19,153.89 L140.45,152.66 L140.71,151.42 L140.98,150.18 L141.24,148.92 L141.51,147.65 L141.77,146.38 L142.04,145.10 L142.30,143.81 L142.57,142.52 L142.83,141.22 L143.10,139.91 L143.36,138.59 L143.62,137.27 L143.89,135.94 L144.15,134.61 L144.42,133.27 L144.68,131.92 L144.95,130.57 L145.21,129.21 L145.48,127.85 L145.74,126.48 L146.01,125.11 L146.27,123.73 L146.54,122.35 L146.80,120.97 L147.06,119.58 L147.33,118.19 L147.59,116.80 L147.86,115.40 L148.12,114.00 L148.39,112.60 L148.65,111.20 L148.92,109.79 L149.18,108.39 L149.45,106.98 L149.71,105.57 L149.98,104.16 L150.24,102.75 L150.50,101.35 L150.77,99.94 L151.03,98.53 L151.30,97.12 L151.56,95.72 L151.83,94.31 L152.09,92.91 L152.36,91.51 L152.62,90.11 L152.89,88.72 L153.15,87.33 L153.42,85.94 L153.68,84.56 L153.94,83.18 L154.21,81.80 L154.47,80.43 L154.74,79.06 L155.00,77.70 L155.27,76.35 L155.53,75.00 L155.80,73.66 L156.06,72.32 L156.33,70.99 L156.59,69.67 L156.85,68.35 L157.12,67.05 L157.38,65.75 L157.65,64.46 L157.91,63.18 L158.18,61.91 L158.44,60.64 L158.71,59.39 L158.97,58.15 L159.24,56.92 L159.50,55.70 L159.77,54.49 L160.03,53.29 L160.29,52.10 L160.56,50.93 L160.82,49.76 L161.09,48.61 L161.35,47.48 L161.62,46.35 L161.88,45.24 L162.15,44.15 L162.41,43.06 L162.68,41.99 L162.94,40.94 L163.21,39.90 L163.47,38.88 L163.73,37.87 L164.00,36.88 L164.26,35.90 L164.53,34.94 L164.79,34.00 L165.06,33.07 L165.32,32.16 L165.59,31.27 L165.85,30.39 L166.12,29.53 L166.38,28.69 L166.65,27.87 L166.91,27.07 L167.17,26.29 L167.44,25.52 L167.70,24.77 L167.97,24.05 L168.23,23.34 L168.50,22.65 L168.76,21.98 L169.03,21.34 L169.29,20.71 L169.56,20.10 L169.82,19.51 L170.08,18.95 L170.35,18.40 L170.61,17.88 L170.88,17.38 L171.14,16.89 L171.41,16.43 L171.67,16.00 L171.94,15.58 L172.20,15.19 L172.47,14.81 L172.73,14.46 L173.00,14.13 L173.26,13.83 L173.52,13.54 L173.79,13.28 L174.05,13.04 L174.32,12.83 L174.58,12.63 L174.85,12.46 L175.11,12.31 L175.38,12.19 L175.64,12.08 L175.91,12.00 L176.17,11.95 L176.44,11.91 L176.70,11.90 L176.96,11.91 L177.23,11.95 L177.49,12.00 L177.76,12.08 L178.02,12.19 L178.29,12.31 L178.55,12.46 L178.82,12.63 L179.08,12.83 L179.35,13.04 L179.61,13.28 L179.88,13.54 L180.14,13.83 L180.40,14.13 L180.67,14.46 L180.93,14.81 L181.20,15.19 L181.46,15.58 L181.73,16.00 L181.99,16.43 L182.26,16.89 L182.52,17.38 L182.79,17.88 L183.05,18.40 L183.31,18.95 L183.58,19.51 L183.84,20.10 L184.11,20.71 L184.37,21.34 L184.64,21.98 L184.90,22.65 L185.17,23.34 L185.43,24.05 L185.70,24.77 L185.96,25.52 L186.23,26.29 L186.49,27.07 L186.75,27.87 L187.02,28.69 L187.28,29.53 L187.55,30.39 L187.81,31.27 L188.08,32.16 L188.34,33.07 L188.61,34.00 L188.87,34.94 L189.14,35.90 L189.40,36.88 L189.67,37.87 L189.93,38.88 L190.19,39.90 L190.46,40.94 L190.72,41.99 L190.99,43.06 L191.25,44.15 L191.52,45.24 L191.78,46.35 L192.05,47.48 L192.31,48.61 L192.58,49.76 L192.84,50.93 L193.11,52.10 L193.37,53.29 L193.63,54.49 L193.90,55.70 L194.16,56.92 L194.43,58.15 L194.69,59.39 L194.96,60.64 L195.22,61.91 L195.49,63.18 L195.75,64.46 L196.02,65.75 L196.28,67.05 L196.54,68.35 L196.81,69.67 L197.07,70.99 L197.34,72.32 L197.60,73.66 L197.87,75.00 L198.13,76.35 L198.40,77.70 L198.66,79.06 L198.93,80.43 L199.19,81.80 L199.46,83.18 L199.72,84.56 L199.98,85.94 L200.25,87.33 L200.51,88.72 L200.78,90.11 L201.04,91.51 L201.31,92.91 L201.57,94.31 L201.84,95.72 L202.10,97.12 L202.37,98.53 L202.63,99.94 L202.90,101.35 L203.16,102.75 L203.42,104.16 L203.69,105.57 L203.95,106.98 L204.22,108.39 L204.48,109.79 L204.75,111.20 L205.01,112.60 L205.28,114.00 L205.54,115.40 L205.81,116.80 L206.07,118.19 L206.34,119.58 L206.60,120.97 L206.86,122.35 L207.13,123.73 L207.39,125.11 L207.66,126.48 L207.92,127.85 L208.19,129.21 L208.45,130.57 L208.72,131.92 L208.98,133.27 L209.25,134.61 L209.51,135.94 L209.77,137.27 L210.04,138.59 L210.30,139.91 L210.57,141.22 L210.83,142.52 L211.10,143.81 L211.36,145.10 L211.63,146.38 L211.89,147.65 L212.16,148.92 L212.42,150.18 L212.69,151.42 L212.95,152.66 L213.21,153.89 L213.48,155.12 L213.74,156.33 L214.01,157.53 L214.27,158.73 L214.54,159.92 L214.80,161.09 L215.07,162.26 L215.33,163.42 L215.60,164.56 L215.86,165.70 L216.13,166.83 L216.39,167.95 L216.65,169.05 L216.92,170.15 L217.18,171.24 L217.45,172.31 L217.71,173.38 L217.98,174.44 L218.24,175.48 L218.51,176.51 L218.77,177.54 L219.04,178.55 L219.30,179.55 L219.57,180.54 L219.83,181.52 L220.09,182.48 L220.36,183.44 L220.62,184.38 L220.89,185.32 L221.15,186.24 L221.42,187.15 L221.68,188.05 L221.95,188.94 L222.21,189.82 L222.48,190.69 L222.74,191.54 L223.00,192.39 L223.27,193.22 L223.53,194.04 L223.80,194.85 L224.06,195.65 L224.33,196.44 L224.59,197.22 L224.86,197.98 L225.12,198.74 L225.39,199.48 L225.65,200.22 L225.92,200.94 L226.18,201.65 L226.44,202.35 L226.71,203.04 L226.97,203.72 L227.24,204.39 L227.50,205.05 L227.77,205.69 L228.03,206.33 L228.30,206.96 L228.56,207.57 L228.83,208.18 L229.09,208.77 L229.36,209.36 L229.62,209.94 L229.88,210.50 L230.15,211.06 L230.41,211.61 L230.68,212.14 L230.94,212.67 L231.21,213.19 L231.47,213.70 L231.74,214.20 L232.00,214.69 L232.27,215.17 L232.53,215.64 L232.80,216.11 L233.06,216.56 L233.32,217.01 L233.59,217.45 L233.85,217.88 L234.12,218.30 L234.38,218.72 L234.65,219.12 L234.91,219.52 L235.18,219.91 L235.44,220.29 L235.71,220.67 L235.97,221.04 L236.23,221.40 L236.50,221.75 L236.76,222.10 L237.03,222.44 L237.29,222.77 L237.56,223.10 L237.82,223.42 L238.09,223.73 L238.35,224.04 L238.62,224.34 L238.88,224.64 L239.15,224.92 L239.41,225.21 L239.67,225.49 L239.94,225.76 L240.20,226.02 L240.47,226.29 L240.73,226.54 L241.00,226.79 L241.26,227.04 L241.53,227.28 L241.79,227.52 L242.06,227.75 L242.32,227.98 L242.59,228.20 L242.85,228.42 L243.11,228.63 L243.38,228.84 L243.64,229.05 L243.91,229.25 L244.17,229.45 L244.44,229.64 L244.70,229.84 L244.97,230.02 L245.23,230.21 L245.50,230.39 L245.76,230.57 L246.03,230.74 L246.29,230.91 L246.55,231.08 L246.82,231.25 L247.08,231.41 L247.35,231.58 L247.61,231.73 L247.88,231.89 L248.14,232.04 L248.41,232.20 L248.67,232.34 L248.94,232.49 L249.20,232.64 L249.46,232.78 L249.73,232.92 L249.99,233.06 L250.26,233.20 L250.52,233.33 L250.79,233.47 L251.05,233.60 L251.32,233.73 L251.58,233.86 L251.85,233.99 L252.11,234.11 L252.38,234.24 L252.64,234.36 L252.90,234.49 L253.17,234.61 L253.43,234.73 L253.70,234.85 L253.96,234.97 L254.23,235.08 L254.49,235.20 L254.76,235.31 L255.02,235.43 L255.29,235.54 L255.55,235.66 L255.82,235.77 L256.08,235.88 L256.34,235.99 L256.61,236.10 L256.87,236.21 L257.14,236.32 L257.40,236.43 L257.67,236.53 L257.93,236.64 L258.20,236.75 L258.46,236.85 L258.73,236.96 L258.99,237.06 L259.26,237.16 L259.52,237.27 L259.78,237.37 L260.05,237.47 L260.31,237.57 L260.58,237.68 L260.84,237.78 L261.11,237.88 L261.37,237.98 L261.64,238.08 L261.90,238.17 L262.17,238.27 L262.43,238.37 L262.69,238.47 L262.96,238.56 L263.22,238.66 L263.49,238.75 L263.75,238.85 L264.02,238.94 L264.28,239.04 L264.55,239.13 L264.81,239.22 L265.08,239.32 L265.34,239.41 L265.61,239.50 L265.87,239.59 L266.13,239.68 L266.40,239.77 L266.66,239.86 L266.93,239.94 L267.19,240.03 L267.46,240.12 L267.72,240.20 L267.99,240.29 L268.25,240.37 L268.52,240.45 L268.78,240.54 L269.05,240.62 L269.31,240.70 L269.57,240.78 L269.84,240.86 L270.10,240.94 L270.37,241.01 L270.63,241.09 L270.90,241.16 L271.16,241.24 L271.43,241.31 L271.69,241.38 L271.96,241.46 L272.22,241.53 L272.49,241.60 L272.75,241.67 L273.01,241.73 L273.28,241.80 L273.54,241.86 L273.81,241.93 L274.07,241.99 L274.34,242.05 L274.60,242.11 L274.87,242.17 L275.13,242.23 L275.40,242.29 L275.66,242.35 L275.92,242.40 L276.19,242.46 L276.45,242.51 L276.72,242.56 L276.98,242.61 L277.25,242.66 L277.51,242.71 L277.78,242.75 L278.04,242.80 L278.31,242.84 L278.57,242.89 L278.84,242.93 L279.10,242.97 L279.36,243.01 L279.63,243.04 L279.89,243.08 L280.16,243.12 L280.42,243.15 L280.69,243.18 L280.95,243.22 L281.22,243.25 L281.48,243.27 L281.75,243.30 L282.01,243.33 L282.28,243.35 L282.54,243.38 L282.80,243.40 L283.07,243.42 L283.33,243.44 L283.60,243.46 L283.86,243.48 L284.13,243.50 L284.39,243.52 L284.66,243.53 L284.92,243.55 L285.19,243.56 L285.45,243.57 L285.72,243.58 L285.98,243.59 L286.24,243.60 L286.51,243.61 L286.77,243.61 L287.04,243.62 L287.30,243.62 L287.57,243.63 L287.83,243.63 L288.10,243.63 L288.36,243.63 L288.63,243.63 L288.89,243.63 L289.15,243.63 L289.42,243.63 L289.68,243.62 L289.95,243.62 L290.21,243.61 L290.48,243.61 L290.74,243.60 L291.01,243.60 L291.27,243.59 L291.54,243.58 L291.80,243.57 L292.07,243.56 L292.33,243.55 L292.59,243.54 L292.86,243.53 L293.12,243.52 L293.39,243.51 L293.65,243.49 L293.92,243.48 L294.18,243.47 L294.45,243.46 L294.71,243.44 L294.98,243.43 L295.24,243.41 L295.51,243.40 L295.77,243.38 L296.03,243.37 L296.30,243.35 L296.56,243.34 L296.83,243.32 L297.09,243.31 L297.36,243.29 L297.62,243.28 L297.89,243.26 L298.15,243.25 L298.42,243.23 L298.68,243.22 L298.95,243.20 L299.21,243.19 L299.47,243.17 L299.74,243.15 L300.00,243.14 L300.27,243.12 L300.53,243.11 L300.80,243.10 L301.06,243.08 L301.33,243.07 L301.59,243.05 L301.86,243.04 L302.12,243.03 L302.38,243.02 L302.65,243.00 L302.91,242.99 L303.18,242.98 L303.44,242.97 L303.71,242.96 L303.97,242.95 L304.24,242.94 L304.50,242.93 L304.77,242.92 L305.03,242.91 L305.30,242.90 L305.56,242.89 L305.82,242.88 L306.09,242.88 L306.35,242.87 L306.62,242.86 L306.88,242.86 L307.15,242.85 L307.41,242.85 L307.68,242.85 L307.94,242.84 L308.21,242.84 L308.47,242.84 L308.74,242.83 L309.00,242.83" stroke="#008000"/>
</g>
<rect x="44.5" y="0.45" width="264.90" height="255.70" fill="none" stroke="#000" stroke-width="1" stroke-linejoin="miter"/>
<line x1="40.80" y1="244.35" x2="44.50" y2="244.35" stroke="#000" stroke-width="1"/>
<line x1="40.80" y1="197.86" x2="44.50" y2="197.86" stroke="#000" stroke-width="1"/>
<line x1="40.80" y1="151.37" x2="44.50" y2="151.37" stroke="#000" stroke-width="1"/>
<line x1="40.80" y1="104.88" x2="44.50" y2="104.88" stroke="#000" stroke-width="1"/>
<line x1="40.80" y1="58.39" x2="44.50" y2="58.39" stroke="#000" stroke-width="1"/>
<line x1="40.80" y1="11.90" x2="44.50" y2="11.90" stroke="#000" stroke-width="1"/>
<line x1="70.86" y1="256.15" x2="70.86" y2="259.85" stroke="#000" stroke-width="1"/>
<line x1="123.78" y1="256.15" x2="123.78" y2="259.85" stroke="#000" stroke-width="1"/>
<line x1="176.70" y1="256.15" x2="176.70" y2="259.85" stroke="#000" stroke-width="1"/>
<line x1="229.62" y1="256.15" x2="229.62" y2="259.85" stroke="#000" stroke-width="1"/>
<line x1="282.54" y1="256.15" x2="282.54" y2="259.85" stroke="#000" stroke-width="1"/>
<g clip-path="url(#clipb)" fill="none" stroke-width="2" stroke-linejoin="round" stroke-linecap="butt">
<path d="M351.80,243.39 L352.06,243.43 L352.33,243.47 L352.59,243.51 L352.86,243.55 L353.12,243.59 L353.39,243.63 L353.65,243.67 L353.92,243.71 L354.18,243.75 L354.45,243.80 L354.71,243.84 L354.98,243.88 L355.24,243.92 L355.50,243.97 L355.77,244.01 L356.03,244.05 L356.30,244.09 L356.56,244.13 L356.83,244.17 L357.09,244.21 L357.36,244.25 L357.62,244.29 L357.89,244.33 L358.15,244.37 L358.42,244.40 L358.68,244.44 L358.94,244.47 L359.21,244.50 L359.47,244.53 L359.74,244.56 L360.00,244.59 L360.27,244.62 L360.53,244.64 L360.80,244.67 L361.06,244.69 L361.33,244.71 L361.59,244.73 L361.85,244.74 L362.12,244.76 L362.38,244.77 L362.65,244.78 L362.91,244.79 L363.18,244.79 L363.44,244.80 L363.71,244.80 L363.97,244.80 L364.24,244.80 L364.50,244.79 L364.77,244.78 L365.03,244.77 L365.29,244.76 L365.56,244.75 L365.82,244.73 L366.09,244.71 L366.35,244.69 L366.62,244.66 L366.88,244.64 L367.15,244.61 L367.41,244.58 L367.68,244.54 L367.94,244.51 L368.21,244.47 L368.47,244.43 L368.73,244.39 L369.00,244.34 L369.26,244.30 L369.53,244.25 L369.79,244.20 L370.06,244.15 L370.32,244.09 L370.59,244.03 L370.85,243.98 L371.12,243.92 L371.38,243.86 L371.65,243.79 L371.91,243.73 L372.17,243.66 L372.44,243.60 L372.70,243.53 L372.97,243.46 L373.23,243.39 L373.50,243.32 L373.76,243.25 L374.03,243.17 L374.29,243.10 L374.56,243.03 L374.82,242.95 L375.08,242.88 L375.35,242.81 L375.61,242.73 L375.88,242.66 L376.14,242.58 L376.41,242.51 L376.67,242.44 L376.94,242.36 L377.20,242.29 L377.47,242.22 L377.73,242.15 L378.00,242.08 L378.26,242.01 L378.52,241.95 L378.79,241.88 L379.05,241.82 L379.32,241.75 L379.58,241.69 L379.85,241.63 L380.11,241.58 L380.38,241.52 L380.64,241.47 L380.91,241.42 L381.17,241.37 L381.44,241.32 L381.70,241.28 L381.96,241.24 L382.23,241.20 L382.49,241.16 L382.76,241.13 L383.02,241.10 L383.29,241.07 L383.55,241.05 L383.82,241.02 L384.08,241.01 L384.35,240.99 L384.61,240.98 L384.88,240.97 L385.14,240.96 L385.40,240.96 L385.67,240.96 L385.93,240.97 L386.20,240.97 L386.46,240.99 L386.73,241.00 L386.99,241.02 L387.26,241.04 L387.52,241.06 L387.79,241.09 L388.05,241.12 L388.31,241.15 L388.58,241.19 L388.84,241.23 L389.11,241.27 L389.37,241.32 L389.64,241.37 L389.90,241.42 L390.17,241.48 L390.43,241.53 L390.70,241.59 L390.96,241.66 L391.23,241.72 L391.49,241.79 L391.75,241.86 L392.02,241.93 L392.28,242.00 L392.55,242.08 L392.81,242.16 L393.08,242.23 L393.34,242.31 L393.61,242.40 L393.87,242.48 L394.14,242.56 L394.40,242.65 L394.67,242.73 L394.93,242.82 L395.19,242.90 L395.46,242.99 L395.72,243.07 L395.99,243.16 L396.25,243.25 L396.52,243.33 L396.78,243.42 L397.05,243.50 L397.31,243.58 L397.58,243.66 L397.84,243.74 L398.11,243.82 L398.37,243.90 L398.63,243.97 L398.90,244.05 L399.16,244.12 L399.43,244.18 L399.69,244.25 L399.96,244.31 L400.22,244.37 L400.49,244.43 L400.75,244.48 L401.02,244.53 L401.28,244.57 L401.54,244.62 L401.81,244.65 L402.07,244.69 L402.34,244.72 L402.60,244.74 L402.87,244.76 L403.13,244.78 L403.40,244.79 L403.66,244.80 L403.93,244.80 L404.19,244.80 L404.46,244.79 L404.72,244.77 L404.98,244.75 L405.25,244.73 L405.51,244.70 L405.78,244.66 L406.04,244.62 L406.31,244.57 L406.57,244.52 L406.84,244.46 L407.10,244.40 L407.37,244.33 L407.63,244.25 L407.90,244.17 L408.16,244.09 L408.42,243.99 L408.69,243.89 L408.95,243.79 L409.22,243.68 L409.48,243.57 L409.75,243.45 L410.01,243.32 L410.28,243.19 L410.54,243.05 L410.81,242.91 L411.07,242.77 L411.34,242.62 L411.60,242.46 L411.86,242.30 L412.13,242.14 L412.39,241.97 L412.66,241.80 L412.92,241.62 L413.19,241.45 L413.45,241.26 L413.72,241.08 L413.98,240.89 L414.25,240.70 L414.51,240.51 L414.77,240.31 L415.04,240.11 L415.30,239.91 L415.57,239.71 L415.83,239.51 L416.10,239.31 L416.36,239.11 L416.63,238.90 L416.89,238.70 L417.16,238.50 L417.42,238.29 L417.69,238.09 L417.95,237.89 L418.21,237.69 L418.48,237.49 L418.74,237.30 L419.01,237.10 L419.27,236.91 L419.54,236.73 L419.80,236.54 L420.07,236.36 L420.33,236.18 L420.60,236.01 L420.86,235.84 L421.13,235.68 L421.39,235.52 L421.65,235.37 L421.92,235.22 L422.18,235.08 L422.45,234.94 L422.71,234.82 L422.98,234.69 L423.24,234.58 L423.51,234.47 L423.77,234.37 L424.04,234.28 L424.30,234.19 L424.56,234.11 L424.83,234.04 L425.09,233.98 L425.36,233.93 L425.62,233.89 L425.89,233.86 L426.15,233.83 L426.42,233.82 L426.68,233.81 L426.95,233.81 L427.21,233.83 L427.48,233.85 L427.74,233.88 L428.00,233.92 L428.27,233.97 L428.53,234.03 L428.80,234.10 L429.06,234.18 L429.33,234.27 L429.59,234.37 L429.86,234.48 L430.12,234.60 L430.39,234.73 L430.65,234.86 L430.92,235.01 L431.18,235.16 L431.44,235.33 L431.71,235.50 L431.97,235.68 L432.24,235.86 L432.50,236.06 L432.77,236.26 L433.03,236.47 L433.30,236.68 L433.56,236.91 L433.83,237.13 L434.09,237.37 L434.36,237.60 L434.62,237.85 L434.88,238.09 L435.15,238.35 L435.41,238.60 L435.68,238.86 L435.94,239.12 L436.21,239.38 L436.47,239.64 L436.74,239.90 L437.00,240.17 L437.27,240.43 L437.53,240.69 L437.80,240.95 L438.06,241.21 L438.32,241.46 L438.59,241.71 L438.85,241.96 L439.12,242.20 L439.38,242.44 L439.65,242.66 L439.91,242.89 L440.18,243.10 L440.44,243.30 L440.71,243.50 L440.97,243.68 L441.23,243.85 L441.50,244.02 L441.76,244.16 L442.03,244.30 L442.29,244.42 L442.56,244.53 L442.82,244.62 L443.09,244.69 L443.35,244.74 L443.62,244.78 L443.88,244.80 L444.15,244.80 L444.41,244.77 L444.67,244.73 L444.94,244.66 L445.20,244.57 L445.47,244.46 L445.73,244.32 L446.00,244.16 L446.26,243.97 L446.53,243.75 L446.79,243.50 L447.06,243.23 L447.32,242.93 L447.59,242.60 L447.85,242.23 L448.11,241.84 L448.38,241.42 L448.64,240.96 L448.91,240.47 L449.17,239.94 L449.44,239.38 L449.70,238.79 L449.97,238.16 L450.23,237.49 L450.50,236.79 L450.76,236.05 L451.03,235.28 L451.29,234.47 L451.55,233.62 L451.82,232.73 L452.08,231.80 L452.35,230.83 L452.61,229.82 L452.88,228.78 L453.14,227.69 L453.41,226.57 L453.67,225.40 L453.94,224.19 L454.20,222.95 L454.46,221.66 L454.73,220.33 L454.99,218.97 L455.26,217.56 L455.52,216.11 L455.79,214.62 L456.05,213.09 L456.32,211.53 L456.58,209.92 L456.85,208.27 L457.11,206.59 L457.38,204.86 L457.64,203.10 L457.90,201.30 L458.17,199.46 L458.43,197.59 L458.70,195.68 L458.96,193.73 L459.23,191.75 L459.49,189.73 L459.76,187.68 L460.02,185.59 L460.29,183.48 L460.55,181.33 L460.82,179.15 L461.08,176.94 L461.34,174.70 L461.61,172.43 L461.87,170.14 L462.14,167.81 L462.40,165.47 L462.67,163.10 L462.93,160.70 L463.20,158.28 L463.46,155.84 L463.73,153.38 L463.99,150.91 L464.25,148.41 L464.52,145.90 L464.78,143.37 L465.05,140.83 L465.31,138.28 L465.58,135.71 L465.84,133.13 L466.11,130.55 L466.37,127.96 L466.64,125.36 L466.90,122.76 L467.17,120.15 L467.43,117.55 L467.69,114.94 L467.96,112.34 L468.22,109.73 L468.49,107.13 L468.75,104.54 L469.02,101.96 L469.28,99.38 L469.55,96.81 L469.81,94.26 L470.08,91.72 L470.34,89.19 L470.61,86.68 L470.87,84.19 L471.13,81.72 L471.40,79.26 L471.66,76.84 L471.93,74.43 L472.19,72.05 L472.46,69.70 L472.72,67.37 L472.99,65.08 L473.25,62.82 L473.52,60.59 L473.78,58.39 L474.05,56.23 L474.31,54.11 L474.57,52.03 L474.84,49.98 L475.10,47.98 L475.37,46.02 L475.63,44.10 L475.90,42.23 L476.16,40.40 L476.43,38.62 L476.69,36.89 L476.96,35.21 L477.22,33.58 L477.49,32.01 L477.75,30.48 L478.01,29.01 L478.28,27.60 L478.54,26.24 L478.81,24.93 L479.07,23.69 L479.34,22.50 L479.60,21.38 L479.87,20.31 L480.13,19.31 L480.40,18.36 L480.66,17.48 L480.92,16.66 L481.19,15.91 L481.45,15.21 L481.72,14.59 L481.98,14.03 L482.25,13.53 L482.51,13.10 L482.78,12.73 L483.04,12.43 L483.31,12.20 L483.57,12.03 L483.84,11.93 L484.10,11.90 L484.36,11.93 L484.63,12.03 L484.89,12.20 L485.16,12.43 L485.42,12.73 L485.69,13.10 L485.95,13.53 L486.22,14.03 L486.48,14.59 L486.75,15.21 L487.01,15.91 L487.28,16.66 L487.54,17.48 L487.80,18.36 L488.07,19.31 L488.33,20.31 L488.60,21.38 L488.86,22.50 L489.13,23.69 L489.39,24.93 L489.66,26.24 L489.92,27.60 L490.19,29.01 L490.45,30.48 L490.72,32.01 L490.98,33.58 L491.24,35.21 L491.51,36.89 L491.77,38.62 L492.04,40.40 L492.30,42.23 L492.57,44.10 L492.83,46.02 L493.10,47.98 L493.36,49.98 L493.63,52.03 L493.89,54.11 L494.15,56.23 L494.42,58.39 L494.68,60.59 L494.95,62.82 L495.21,65.08 L495.48,67.37 L495.74,69.70 L496.01,72.05 L496.27,74.43 L496.54,76.84 L496.80,79.26 L497.07,81.72 L497.33,84.19 L497.59,86.68 L497.86,89.19 L498.12,91.72 L498.39,94.26 L498.65,96.81 L498.92,99.38 L499.18,101.96 L499.45,104.54 L499.71,107.13 L499.98,109.73 L500.24,112.34 L500.51,114.94 L500.77,117.55 L501.03,120.15 L501.30,122.76 L501.56,125.36 L501.83,127.96 L502.09,130.55 L502.36,133.13 L502.62,135.71 L502.89,138.28 L503.15,140.83 L503.42,143.37 L503.68,145.90 L503.95,148.41 L504.21,150.91 L504.47,153.38 L504.74,155.84 L505.00,158.28 L505.27,160.70 L505.53,163.10 L505.80,165.47 L506.06,167.81 L506.33,170.14 L506.59,172.43 L506.86,174.70 L507.12,176.94 L507.38,179.15 L507.65,181.33 L507.91,183.48 L508.18,185.59 L508.44,187.68 L508.71,189.73 L508.97,191.75 L509.24,193.73 L509.50,195.68 L509.77,197.59 L510.03,199.46 L510.30,201.30 L510.56,203.10 L510.82,204.86 L511.09,206.59 L511.35,208.27 L511.62,209.92 L511.88,211.53 L512.15,213.09 L512.41,214.62 L512.68,216.11 L512.94,217.56 L513.21,218.97 L513.47,220.33 L513.74,221.66 L514.00,222.95 L514.26,224.19 L514.53,225.40 L514.79,226.57 L515.06,227.69 L515.32,228.78 L515.59,229.82 L515.85,230.83 L516.12,231.80 L516.38,232.73 L516.65,233.62 L516.91,234.47 L517.18,235.28 L517.44,236.05 L517.70,236.79 L517.97,237.49 L518.23,238.16 L518.50,238.79 L518.76,239.38 L519.03,239.94 L519.29,240.47 L519.56,240.96 L519.82,241.42 L520.09,241.84 L520.35,242.23 L520.61,242.60 L520.88,242.93 L521.14,243.23 L521.41,243.50 L521.67,243.75 L521.94,243.97 L522.20,244.16 L522.47,244.32 L522.73,244.46 L523.00,244.57 L523.26,244.66 L523.53,244.73 L523.79,244.77 L524.05,244.80 L524.32,244.80 L524.58,244.78 L524.85,244.74 L525.11,244.69 L525.38,244.62 L525.64,244.53 L525.91,244.42 L526.17,244.30 L526.44,244.16 L526.70,244.02 L526.97,243.85 L527.23,243.68 L527.49,243.50 L527.76,243.30 L528.02,243.10 L528.29,242.89 L528.55,242.66 L528.82,242.44 L529.08,242.20 L529.35,241.96 L529.61,241.71 L529.88,241.46 L530.14,241.21 L530.40,240.95 L530.67,240.69 L530.93,240.43 L531.20,240.17 L531.46,239.90 L531.73,239.64 L531.99,239.38 L532.26,239.12 L532.52,238.86 L532.79,238.60 L533.05,238.35 L533.32,238.09 L533.58,237.85 L533.84,237.60 L534.11,237.37 L534.37,237.13 L534.64,236.91 L534.90,236.68 L535.17,236.47 L535.43,236.26 L535.70,236.06 L535.96,235.86 L536.23,235.68 L536.49,235.50 L536.76,235.33 L537.02,235.16 L537.28,235.01 L537.55,234.86 L537.81,234.73 L538.08,234.60 L538.34,234.48 L538.61,234.37 L538.87,234.27 L539.14,234.18 L539.40,234.10 L539.67,234.03 L539.93,233.97 L540.20,233.92 L540.46,233.88 L540.72,233.85 L540.99,233.83 L541.25,233.81 L541.52,233.81 L541.78,233.82 L542.05,233.83 L542.31,233.86 L542.58,233.89 L542.84,233.93 L543.11,233.98 L543.37,234.04 L543.63,234.11 L543.90,234.19 L544.16,234.28 L544.43,234.37 L544.69,234.47 L544.96,234.58 L545.22,234.69 L545.49,234.82 L545.75,234.94 L546.02,235.08 L546.28,235.22 L546.55,235.37 L546.81,235.52 L547.07,235.68 L547.34,235.84 L547.60,236.01 L547.87,236.18 L548.13,236.36 L548.40,236.54 L548.66,236.73 L548.93,236.91 L549.19,237.10 L549.46,237.30 L549.72,237.49 L549.99,237.69 L550.25,237.89 L550.51,238.09 L550.78,238.29 L551.04,238.50 L551.31,238.70 L551.57,238.90 L551.84,239.11 L552.10,239.31 L552.37,239.51 L552.63,239.71 L552.90,239.91 L553.16,240.11 L553.43,240.31 L553.69,240.51 L553.95,240.70 L554.22,240.89 L554.48,241.08 L554.75,241.26 L555.01,241.45 L555.28,241.62 L555.54,241.80 L555.81,241.97 L556.07,242.14 L556.34,242.30 L556.60,242.46 L556.87,242.62 L557.13,242.77 L557.39,242.91 L557.66,243.05 L557.92,243.19 L558.19,243.32 L558.45,243.45 L558.72,243.57 L558.98,243.68 L559.25,243.79 L559.51,243.89 L559.78,243.99 L560.04,244.09 L560.30,244.17 L560.57,244.25 L560.83,244.33 L561.10,244.40 L561.36,244.46 L561.63,244.52 L561.89,244.57 L562.16,244.62 L562.42,244.66 L562.69,244.70 L562.95,244.73 L563.22,244.75 L563.48,244.77 L563.74,244.79 L564.01,244.80 L564.27,244.80 L564.54,244.80 L564.80,244.79 L565.07,244.78 L565.33,244.76 L565.60,244.74 L565.86,244.72 L566.13,244.69 L566.39,244.65 L566.66,244.62 L566.92,244.57 L567.18,244.53 L567.45,244.48 L567.71,244.43 L567.98,244.37 L568.24,244.31 L568.51,244.25 L568.77,244.18 L569.04,244.12 L569.30,244.05 L569.57,243.97 L569.83,243.90 L570.10,243.82 L570.36,243.74 L570.62,243.66 L570.89,243.58 L571.15,243.50 L571.42,243.42 L571.68,243.33 L571.95,243.25 L572.21,243.16 L572.48,243.07 L572.74,242.99 L573.01,242.90 L573.27,242.82 L573.53,242.73 L573.80,242.65 L574.06,242.56 L574.33,242.48 L574.59,242.40 L574.86,242.31 L575.12,242.23 L575.39,242.16 L575.65,242.08 L575.92,242.00 L576.18,241.93 L576.45,241.86 L576.71,241.79 L576.97,241.72 L577.24,241.66 L577.50,241.59 L577.77,241.53 L578.03,241.48 L578.30,241.42 L578.56,241.37 L578.83,241.32 L579.09,241.27 L579.36,241.23 L579.62,241.19 L579.89,241.15 L580.15,241.12 L580.41,241.09 L580.68,241.06 L580.94,241.04 L581.21,241.02 L581.47,241.00 L581.74,240.99 L582.00,240.97 L582.27,240.97 L582.53,240.96 L582.80,240.96 L583.06,240.96 L583.33,240.97 L583.59,240.98 L583.85,240.99 L584.12,241.01 L584.38,241.02 L584.65,241.05 L584.91,241.07 L585.18,241.10 L585.44,241.13 L585.71,241.16 L585.97,241.20 L586.24,241.24 L586.50,241.28 L586.76,241.32 L587.03,241.37 L587.29,241.42 L587.56,241.47 L587.82,241.52 L588.09,241.58 L588.35,241.63 L588.62,241.69 L588.88,241.75 L589.15,241.82 L589.41,241.88 L589.68,241.95 L589.94,242.01 L590.20,242.08 L590.47,242.15 L590.73,242.22 L591.00,242.29 L591.26,242.36 L591.53,242.44 L591.79,242.51 L592.06,242.58 L592.32,242.66 L592.59,242.73 L592.85,242.81 L593.12,242.88 L593.38,242.95 L593.64,243.03 L593.91,243.10 L594.17,243.17 L594.44,243.25 L594.70,243.32 L594.97,243.39 L595.23,243.46 L595.50,243.53 L595.76,243.60 L596.03,243.66 L596.29,243.73 L596.56,243.79 L596.82,243.86 L597.08,243.92 L597.35,243.98 L597.61,244.03 L597.88,244.09 L598.14,244.15 L598.41,244.20 L598.67,244.25 L598.94,244.30 L599.20,244.34 L599.47,244.39 L599.73,244.43 L599.99,244.47 L600.26,244.51 L600.52,244.54 L600.79,244.58 L601.05,244.61 L601.32,244.64 L601.58,244.66 L601.85,244.69 L602.11,244.71 L602.38,244.73 L602.64,244.75 L602.91,244.76 L603.17,244.77 L603.43,244.78 L603.70,244.79 L603.96,244.80 L604.23,244.80 L604.49,244.80 L604.76,244.80 L605.02,244.79 L605.29,244.79 L605.55,244.78 L605.82,244.77 L606.08,244.76 L606.35,244.74 L606.61,244.73 L606.87,244.71 L607.14,244.69 L607.40,244.67 L607.67,244.64 L607.93,244.62 L608.20,244.59 L608.46,244.56 L608.73,244.53 L608.99,244.50 L609.26,244.47 L609.52,244.44 L609.79,244.40 L610.05,244.37 L610.31,244.33 L610.58,244.29 L610.84,244.25 L611.11,244.21 L611.37,244.17 L611.64,244.13 L611.90,244.09 L612.17,244.05 L612.43,244.01 L612.70,243.97 L612.96,243.92 L613.22,243.88 L613.49,243.84 L613.75,243.80 L614.02,243.75 L614.28,243.71 L614.55,243.67 L614.81,243.63 L615.08,243.59 L615.34,243.55 L615.61,243.51 L615.87,243.47 L616.14,243.43 L616.40,243.39" stroke="#0000ff"/>
<path d="M351.80,244.54 L352.06,244.54 L352.33,244.55 L352.59,244.56 L352.86,244.56 L353.12,244.57 L353.39,244.57 L353.65,244.58 L353.92,244.59 L354.18,244.59 L354.45,244.60 L354.71,244.60 L354.98,244.61 L355.24,244.61 L355.50,244.61 L355.77,244.62 L356.03,244.62 L356.30,244.62 L356.56,244.63 L356.83,244.63 L357.09,244.63 L357.36,244.63 L357.62,244.63 L357.89,244.64 L358.15,244.64 L358.42,244.64 L358.68,244.64 L358.94,244.64 L359.21,244.64 L359.47,244.64 L359.74,244.64 L360.00,244.64 L360.27,244.64 L360.53,244.64 L360.80,244.63 L361.06,244.63 L361.33,244.63 L361.59,244.63 L361.85,244.62 L362.12,244.62 L362.38,244.62 L362.65,244.61 L362.91,244.61 L363.18,244.61 L363.44,244.60 L363.71,244.60 L363.97,244.59 L364.24,244.59 L364.50,244.58 L364.77,244.57 L365.03,244.57 L365.29,244.56 L365.56,244.55 L365.82,244.55 L366.09,244.54 L366.35,244.53 L366.62,244.52 L366.88,244.52 L367.15,244.51 L367.41,244.50 L367.68,244.49 L367.94,244.48 L368.21,244.47 L368.47,244.46 L368.73,244.45 L369.00,244.44 L369.26,244.43 L369.53,244.41 L369.79,244.40 L370.06,244.39 L370.32,244.38 L370.59,244.37 L370.85,244.35 L371.12,244.34 L371.38,244.33 L371.65,244.31 L371.91,244.30 L372.17,244.28 L372.44,244.27 L372.70,244.25 L372.97,244.24 L373.23,244.22 L373.50,244.21 L373.76,244.19 L374.03,244.17 L374.29,244.16 L374.56,244.14 L374.82,244.12 L375.08,244.10 L375.35,244.08 L375.61,244.07 L375.88,244.05 L376.14,244.03 L376.41,244.01 L376.67,243.99 L376.94,243.97 L377.20,243.95 L377.47,243.93 L377.73,243.91 L378.00,243.89 L378.26,243.87 L378.52,243.84 L378.79,243.82 L379.05,243.80 L379.32,243.78 L379.58,243.75 L379.85,243.73 L380.11,243.71 L380.38,243.68 L380.64,243.66 L380.91,243.64 L381.17,243.61 L381.44,243.59 L381.70,243.56 L381.96,243.54 L382.23,243.51 L382.49,243.49 L382.76,243.46 L383.02,243.44 L383.29,243.41 L383.55,243.38 L383.82,243.36 L384.08,243.33 L384.35,243.30 L384.61,243.28 L384.88,243.25 L385.14,243.22 L385.40,243.20 L385.67,243.17 L385.93,243.14 L386.20,243.11 L386.46,243.09 L386.73,243.06 L386.99,243.03 L387.26,243.00 L387.52,242.97 L387.79,242.95 L388.05,242.92 L388.31,242.89 L388.58,242.86 L388.84,242.83 L389.11,242.81 L389.37,242.78 L389.64,242.75 L389.90,242.72 L390.17,242.69 L390.43,242.67 L390.70,242.64 L390.96,242.61 L391.23,242.58 L391.49,242.56 L391.75,242.53 L392.02,242.50 L392.28,242.48 L392.55,242.45 L392.81,242.42 L393.08,242.40 L393.34,242.37 L393.61,242.35 L393.87,242.32 L394.14,242.30 L394.40,242.27 L394.67,242.25 L394.93,242.23 L395.19,242.20 L395.46,242.18 L395.72,242.16 L395.99,242.13 L396.25,242.11 L396.52,242.09 L396.78,242.07 L397.05,242.05 L397.31,242.03 L397.58,242.01 L397.84,242.00 L398.11,241.98 L398.37,241.96 L398.63,241.94 L398.90,241.93 L399.16,241.91 L399.43,241.90 L399.69,241.89 L399.96,241.87 L400.22,241.86 L400.49,241.85 L400.75,241.84 L401.02,241.83 L401.28,241.82 L401.54,241.81 L401.81,241.81 L402.07,241.80 L402.34,241.79 L402.60,241.79 L402.87,241.79 L403.13,241.78 L403.40,241.78 L403.66,241.78 L403.93,241.78 L404.19,241.78 L404.46,241.79 L404.72,241.79 L404.98,241.79 L405.25,241.80 L405.51,241.81 L405.78,241.81 L406.04,241.82 L406.31,241.83 L406.57,241.84 L406.84,241.86 L407.10,241.87 L407.37,241.88 L407.63,241.90 L407.90,241.92 L408.16,241.93 L408.42,241.95 L408.69,241.97 L408.95,241.99 L409.22,242.02 L409.48,242.04 L409.75,242.06 L410.01,242.09 L410.28,242.12 L410.54,242.15 L410.81,242.17 L411.07,242.20 L411.34,242.24 L411.60,242.27 L411.86,242.30 L412.13,242.33 L412.39,242.37 L412.66,242.41 L412.92,242.44 L413.19,242.48 L413.45,242.52 L413.72,242.56 L413.98,242.60 L414.25,242.64 L414.51,242.69 L414.77,242.73 L415.04,242.77 L415.30,242.82 L415.57,242.86 L415.83,242.91 L416.10,242.95 L416.36,243.00 L416.63,243.05 L416.89,243.10 L417.16,243.15 L417.42,243.19 L417.69,243.24 L417.95,243.29 L418.21,243.34 L418.48,243.39 L418.74,243.44 L419.01,243.49 L419.27,243.54 L419.54,243.59 L419.80,243.64 L420.07,243.69 L420.33,243.73 L420.60,243.78 L420.86,243.83 L421.13,243.88 L421.39,243.92 L421.65,243.97 L421.92,244.01 L422.18,244.05 L422.45,244.10 L422.71,244.14 L422.98,244.18 L423.24,244.22 L423.51,244.25 L423.77,244.29 L424.04,244.32 L424.30,244.36 L424.56,244.39 L424.83,244.41 L425.09,244.44 L425.36,244.46 L425.62,244.49 L425.89,244.51 L426.15,244.52 L426.42,244.54 L426.68,244.55 L426.95,244.56 L427.21,244.56 L427.48,244.57 L427.74,244.56 L428.00,244.56 L428.27,244.55 L428.53,244.54 L428.80,244.53 L429.06,244.51 L429.33,244.48 L429.59,244.46 L429.86,244.42 L430.12,244.39 L430.39,244.35 L430.65,244.30 L430.92,244.25 L431.18,244.19 L431.44,244.13 L431.71,244.07 L431.97,243.99 L432.24,243.92 L432.50,243.83 L432.77,243.74 L433.03,243.65 L433.30,243.55 L433.56,243.44 L433.83,243.33 L434.09,243.21 L434.36,243.08 L434.62,242.94 L434.88,242.80 L435.15,242.65 L435.41,242.50 L435.68,242.33 L435.94,242.16 L436.21,241.98 L436.47,241.80 L436.74,241.60 L437.00,241.40 L437.27,241.19 L437.53,240.97 L437.80,240.74 L438.06,240.50 L438.32,240.25 L438.59,240.00 L438.85,239.74 L439.12,239.46 L439.38,239.18 L439.65,238.89 L439.91,238.59 L440.18,238.28 L440.44,237.96 L440.71,237.63 L440.97,237.29 L441.23,236.94 L441.50,236.58 L441.76,236.21 L442.03,235.83 L442.29,235.43 L442.56,235.03 L442.82,234.62 L443.09,234.20 L443.35,233.77 L443.62,233.32 L443.88,232.87 L444.15,232.40 L444.41,231.93 L444.67,231.44 L444.94,230.94 L445.20,230.43 L445.47,229.91 L445.73,229.38 L446.00,228.84 L446.26,228.29 L446.53,227.72 L446.79,227.15 L447.06,226.56 L447.32,225.96 L447.59,225.35 L447.85,224.74 L448.11,224.10 L448.38,223.46 L448.64,222.81 L448.91,222.15 L449.17,221.47 L449.44,220.79 L449.70,220.10 L449.97,219.39 L450.23,218.67 L450.50,217.95 L450.76,217.21 L451.03,216.46 L451.29,215.70 L451.55,214.94 L451.82,214.16 L452.08,213.37 L452.35,212.57 L452.61,211.76 L452.88,210.95 L453.14,210.12 L453.41,209.29 L453.67,208.44 L453.94,207.59 L454.20,206.73 L454.46,205.86 L454.73,204.98 L454.99,204.09 L455.26,203.20 L455.52,202.29 L455.79,201.38 L456.05,200.47 L456.32,199.54 L456.58,198.61 L456.85,197.67 L457.11,196.73 L457.38,195.77 L457.64,194.82 L457.90,193.85 L458.17,192.89 L458.43,191.91 L458.70,190.93 L458.96,189.95 L459.23,188.96 L459.49,187.97 L459.76,186.97 L460.02,185.97 L460.29,184.97 L460.55,183.97 L460.82,182.96 L461.08,181.95 L461.34,180.93 L461.61,179.92 L461.87,178.90 L462.14,177.89 L462.40,176.87 L462.67,175.85 L462.93,174.83 L463.20,173.81 L463.46,172.80 L463.73,171.78 L463.99,170.76 L464.25,169.75 L464.52,168.74 L464.78,167.73 L465.05,166.72 L465.31,165.72 L465.58,164.71 L465.84,163.72 L466.11,162.72 L466.37,161.74 L466.64,160.75 L466.90,159.77 L467.17,158.80 L467.43,157.83 L467.69,156.87 L467.96,155.92 L468.22,154.97 L468.49,154.03 L468.75,153.10 L469.02,152.17 L469.28,151.26 L469.55,150.35 L469.81,149.45 L470.08,148.56 L470.34,147.68 L470.61,146.81 L470.87,145.95 L471.13,145.10 L471.40,144.27 L471.66,143.44 L471.93,142.63 L472.19,141.82 L472.46,141.03 L472.72,140.26 L472.99,139.49 L473.25,138.74 L473.52,138.01 L473.78,137.28 L474.05,136.58 L474.31,135.88 L474.57,135.20 L474.84,134.54 L475.10,133.89 L475.37,133.26 L475.63,132.64 L475.90,132.04 L476.16,131.46 L476.43,130.89 L476.69,130.34 L476.96,129.80 L477.22,129.29 L477.49,128.79 L477.75,128.31 L478.01,127.85 L478.28,127.40 L478.54,126.98 L478.81,126.57 L479.07,126.18 L479.34,125.81 L479.60,125.46 L479.87,125.13 L480.13,124.81 L480.40,124.52 L480.66,124.25 L480.92,124.00 L481.19,123.76 L481.45,123.55 L481.72,123.36 L481.98,123.18 L482.25,123.03 L482.51,122.90 L482.78,122.78 L483.04,122.69 L483.31,122.62 L483.57,122.57 L483.84,122.54 L484.10,122.53 L484.36,122.54 L484.63,122.57 L484.89,122.62 L485.16,122.69 L485.42,122.78 L485.69,122.90 L485.95,123.03 L486.22,123.18 L486.48,123.36 L486.75,123.55 L487.01,123.76 L487.28,124.00 L487.54,124.25 L487.80,124.52 L488.07,124.81 L488.33,125.13 L488.60,125.46 L488.86,125.81 L489.13,126.18 L489.39,126.57 L489.66,126.98 L489.92,127.40 L490.19,127.85 L490.45,128.31 L490.72,128.79 L490.98,129.29 L491.24,129.80 L491.51,130.34 L491.77,130.89 L492.04,131.46 L492.30,132.04 L492.57,132.64 L492.83,133.26 L493.10,133.89 L493.36,134.54 L493.63,135.20 L493.89,135.88 L494.15,136.58 L494.42,137.28 L494.68,138.01 L494.95,138.74 L495.21,139.49 L495.48,140.26 L495.74,141.03 L496.01,141.82 L496.27,142.63 L496.54,143.44 L496.80,144.27 L497.07,145.10 L497.33,145.95 L497.59,146.81 L497.86,147.68 L498.12,148.56 L498.39,149.45 L498.65,150.35 L498.92,151.26 L499.18,152.17 L499.45,153.10 L499.71,154.03 L499.98,154.97 L500.24,155.92 L500.51,156.87 L500.77,157.83 L501.03,158.80 L501.30,159.77 L501.56,160.75 L501.83,161.74 L502.09,162.72 L502.36,163.72 L502.62,164.71 L502.89,165.72 L503.15,166.72 L503.42,167.73 L503.68,168.74 L503.95,169.75 L504.21,170.76 L504.47,171.78 L504.74,172.80 L505.00,173.81 L505.27,174.83 L505.53,175.85 L505.80,176.87 L506.06,177.89 L506.33,178.90 L506.59,179.92 L506.86,180.93 L507.12,181.95 L507.38,182.96 L507.65,183.97 L507.91,184.97 L508.18,185.97 L508.44,186.97 L508.71,187.97 L508.97,188.96 L509.24,189.95 L509.50,190.93 L509.77,191.91 L510.03,192.89 L510.30,193.85 L510.56,194.82 L510.82,195.77 L511.09,196.73 L511.35,197.67 L511.62,198.61 L511.88,199.54 L512.15,200.47 L512.41,201.38 L512.68,202.29 L512.94,203.20 L513.21,204.09 L513.47,204.98 L513.74,205.86 L514.00,206.73 L514.26,207.59 L514.53,208.44 L514.79,209.29 L515.06,210.12 L515.32,210.95 L515.59,211.76 L515.85,212.57 L516.12,213.37 L516.38,214.16 L516.65,214.94 L516.91,215.70 L517.18,216.46 L517.44,217.21 L517.70,217.95 L517.97,218.67 L518.23,219.39 L518.50,220.10 L518.76,220.79 L519.03,221.47 L519.29,222.15 L519.56,222.81 L519.82,223.46 L520.09,224.10 L520.35,224.74 L520.61,225.35 L520.88,225.96 L521.14,226.56 L521.41,227.15 L521.67,227.72 L521.94,228.29 L522.20,228.84 L522.47,229.38 L522.73,229.91 L523.00,230.43 L523.26,230.94 L523.53,231.44 L523.79,231.93 L524.05,232.40 L524.32,232.87 L524.58,233.32 L524.85,233.77 L525.11,234.20 L525.38,234.62 L525.64,235.03 L525.91,235.43 L526.17,235.83 L526.44,236.21 L526.70,236.58 L526.97,236.94 L527.23,237.29 L527.49,237.63 L527.76,237.96 L528.02,238.28 L528.29,238.59 L528.55,238.89 L528.82,239.18 L529.08,239.46 L529.35,239.74 L529.61,240.00 L529.88,240.25 L530.14,240.50 L530.40,240.74 L530.67,240.97 L530.93,241.19 L531.20,241.40 L531.46,241.60 L531.73,241.80 L531.99,241.98 L532.26,242.16 L532.52,242.33 L532.79,242.50 L533.05,242.65 L533.32,242.80 L533.58,242.94 L533.84,243.08 L534.11,243.21 L534.37,243.33 L534.64,243.44 L534.90,243.55 L535.17,243.65 L535.43,243.74 L535.70,243.83 L535.96,243.92 L536.23,243.99 L536.49,244.07 L536.76,244.13 L537.02,244.19 L537.28,244.25 L537.55,244.30 L537.81,244.35 L538.08,244.39 L538.34,244.42 L538.61,244.46 L538.87,244.48 L539.14,244.51 L539.40,244.53 L539.67,244.54 L539.93,244.55 L540.20,244.56 L540.46,244.56 L540.72,244.57 L540.99,244.56 L541.25,244.56 L541.52,244.55 L541.78,244.54 L542.05,244.52 L542.31,244.51 L542.58,244.49 L542.84,244.46 L543.11,244.44 L543.37,244.41 L543.63,244.39 L543.90,244.36 L544.16,244.32 L544.43,244.29 L544.69,244.25 L544.96,244.22 L545.22,244.18 L545.49,244.14 L545.75,244.10 L546.02,244.05 L546.28,244.01 L546.55,243.97 L546.81,243.92 L547.07,243.88 L547.34,243.83 L547.60,243.78 L547.87,243.73 L548.13,243.69 L548.40,243.64 L548.66,243.59 L548.93,243.54 L549.19,243.49 L549.46,243.44 L549.72,243.39 L549.99,243.34 L550.25,243.29 L550.51,243.24 L550.78,243.19 L551.04,243.15 L551.31,243.10 L551.57,243.05 L551.84,243.00 L552.10,242.95 L552.37,242.91 L552.63,242.86 L552.90,242.82 L553.16,242.77 L553.43,242.73 L553.69,242.69 L553.95,242.64 L554.22,242.60 L554.48,242.56 L554.75,242.52 L555.01,242.48 L555.28,242.44 L555.54,242.41 L555.81,242.37 L556.07,242.33 L556.34,242.30 L556.60,242.27 L556.87,242.24 L557.13,242.20 L557.39,242.17 L557.66,242.15 L557.92,242.12 L558.19,242.09 L558.45,242.06 L558.72,242.04 L558.98,242.02 L559.25,241.99 L559.51,241.97 L559.78,241.95 L560.04,241.93 L560.30,241.92 L560.57,241.90 L560.83,241.88 L561.10,241.87 L561.36,241.86 L561.63,241.84 L561.89,241.83 L562.16,241.82 L562.42,241.81 L562.69,241.81 L562.95,241.80 L563.22,241.79 L563.48,241.79 L563.74,241.79 L564.01,241.78 L564.27,241.78 L564.54,241.78 L564.80,241.78 L565.07,241.78 L565.33,241.79 L565.60,241.79 L565.86,241.79 L566.13,241.80 L566.39,241.81 L566.66,241.81 L566.92,241.82 L567.18,241.83 L567.45,241.84 L567.71,241.85 L567.98,241.86 L568.24,241.87 L568.51,241.89 L568.77,241.90 L569.04,241.91 L569.30,241.93 L569.57,241.94 L569.83,241.96 L570.10,241.98 L570.36,242.00 L570.62,242.01 L570.89,242.03 L571.15,242.05 L571.42,242.07 L571.68,242.09 L571.95,242.11 L572.21,242.13 L572.48,242.16 L572.74,242.18 L573.01,242.20 L573.27,242.23 L573.53,242.25 L573.80,242.27 L574.06,242.30 L574.33,242.32 L574.59,242.35 L574.86,242.37 L575.12,242.40 L575.39,242.42 L575.65,242.45 L575.92,242.48 L576.18,242.50 L576.45,242.53 L576.71,242.56 L576.97,242.58 L577.24,242.61 L577.50,242.64 L577.77,242.67 L578.03,242.69 L578.30,242.72 L578.56,242.75 L578.83,242.78 L579.09,242.81 L579.36,242.83 L579.62,242.86 L579.89,242.89 L580.15,242.92 L580.41,242.95 L580.68,242.97 L580.94,243.00 L581.21,243.03 L581.47,243.06 L581.74,243.09 L582.00,243.11 L582.27,243.14 L582.53,243.17 L582.80,243.20 L583.06,243.22 L583.33,243.25 L583.59,243.28 L583.85,243.30 L584.12,243.33 L584.38,243.36 L584.65,243.38 L584.91,243.41 L585.18,243.44 L585.44,243.46 L585.71,243.49 L585.97,243.51 L586.24,243.54 L586.50,243.56 L586.76,243.59 L587.03,243.61 L587.29,243.64 L587.56,243.66 L587.82,243.68 L588.09,243.71 L588.35,243.73 L588.62,243.75 L588.88,243.78 L589.15,243.80 L589.41,243.82 L589.68,243.84 L589.94,243.87 L590.20,243.89 L590.47,243.91 L590.73,243.93 L591.00,243.95 L591.26,243.97 L591.53,243.99 L591.79,244.01 L592.06,244.03 L592.32,244.05 L592.59,244.07 L592.85,244.08 L593.12,244.10 L593.38,244.12 L593.64,244.14 L593.91,244.16 L594.17,244.17 L594.44,244.19 L594.70,244.21 L594.97,244.22 L595.23,244.24 L595.50,244.25 L595.76,244.27 L596.03,244.28 L596.29,244.30 L596.56,244.31 L596.82,244.33 L597.08,244.34 L597.35,244.35 L597.61,244.37 L597.88,244.38 L598.14,244.39 L598.41,244.40 L598.67,244.41 L598.94,244.43 L599.20,244.44 L599.47,244.45 L599.73,244.46 L599.99,244.47 L600.26,244.48 L600.52,244.49 L600.79,244.50 L601.05,244.51 L601.32,244.52 L601.58,244.52 L601.85,244.53 L602.11,244.54 L602.38,244.55 L602.64,244.55 L602.91,244.56 L603.17,244.57 L603.43,244.57 L603.70,244.58 L603.96,244.59 L604.23,244.59 L604.49,244.60 L604.76,244.60 L605.02,244.61 L605.29,244.61 L605.55,244.61 L605.82,244.62 L606.08,244.62 L606.35,244.62 L606.61,244.63 L606.87,244.63 L607.14,244.63 L607.40,244.63 L607.67,244.64 L607.93,244.64 L608.20,244.64 L608.46,244.64 L608.73,244.64 L608.99,244.64 L609.26,244.64 L609.52,244.64 L609.79,244.64 L610.05,244.64 L610.31,244.64 L610.58,244.63 L610.84,244.63 L611.11,244.63 L611.37,244.63 L611.64,244.63 L611.90,244.62 L612.17,244.62 L612.43,244.62 L612.70,244.61 L612.96,244.61 L613.22,244.61 L613.49,244.60 L613.75,244.60 L614.02,244.59 L614.28,244.59 L614.55,244.58 L614.81,244.57 L615.08,244.57 L615.34,244.56 L615.61,244.56 L615.87,244.55 L616.14,244.54 L616.40,244.54" stroke="#ff0000"/>
<path d="M351.80,244.37 L352.06,244.37 L352.33,244.37 L352.59,244.37 L352.86,244.38 L353.12,244.38 L353.39,244.38 L353.65,244.38 L353.92,244.38 L354.18,244.38 L354.45,244.38 L354.71,244.38 L354.98,244.38 L355.24,244.39 L355.50,244.39 L355.77,244.39 L356.03,244.39 L356.30,244.39 L356.56,244.40 L356.83,244.40 L357.09,244.40 L357.36,244.40 L357.62,244.40 L357.89,244.41 L358.15,244.41 L358.42,244.41 L358.68,244.42 L358.94,244.42 L359.21,244.42 L359.47,244.42 L359.74,244.43 L360.00,244.43 L360.27,244.43 L360.53,244.44 L360.80,244.44 L361.06,244.44 L361.33,244.45 L361.59,244.45 L361.85,244.45 L362.12,244.46 L362.38,244.46 L362.65,244.46 L362.91,244.47 L363.18,244.47 L363.44,244.47 L363.71,244.48 L363.97,244.48 L364.24,244.48 L364.50,244.49 L364.77,244.49 L365.03,244.49 L365.29,244.50 L365.56,244.50 L365.82,244.50 L366.09,244.51 L366.35,244.51 L366.62,244.51 L366.88,244.51 L367.15,244.52 L367.41,244.52 L367.68,244.52 L367.94,244.52 L368.21,244.53 L368.47,244.53 L368.73,244.53 L369.00,244.53 L369.26,244.54 L369.53,244.54 L369.79,244.54 L370.06,244.54 L370.32,244.54 L370.59,244.54 L370.85,244.54 L371.12,244.54 L371.38,244.55 L371.65,244.55 L371.91,244.55 L372.17,244.55 L372.44,244.55 L372.70,244.55 L372.97,244.55 L373.23,244.55 L373.50,244.54 L373.76,244.54 L374.03,244.54 L374.29,244.54 L374.56,244.54 L374.82,244.54 L375.08,244.54 L375.35,244.53 L375.61,244.53 L375.88,244.53 L376.14,244.52 L376.41,244.52 L376.67,244.52 L376.94,244.51 L377.20,244.51 L377.47,244.51 L377.73,244.50 L378.00,244.50 L378.26,244.49 L378.52,244.49 L378.79,244.48 L379.05,244.48 L379.32,244.47 L379.58,244.46 L379.85,244.46 L380.11,244.45 L380.38,244.44 L380.64,244.43 L380.91,244.43 L381.17,244.42 L381.44,244.41 L381.70,244.40 L381.96,244.39 L382.23,244.38 L382.49,244.38 L382.76,244.37 L383.02,244.36 L383.29,244.35 L383.55,244.34 L383.82,244.32 L384.08,244.31 L384.35,244.30 L384.61,244.29 L384.88,244.28 L385.14,244.27 L385.40,244.26 L385.67,244.24 L385.93,244.23 L386.20,244.22 L386.46,244.20 L386.73,244.19 L386.99,244.18 L387.26,244.16 L387.52,244.15 L387.79,244.13 L388.05,244.12 L388.31,244.10 L388.58,244.09 L388.84,244.07 L389.11,244.06 L389.37,244.04 L389.64,244.03 L389.90,244.01 L390.17,243.99 L390.43,243.98 L390.70,243.96 L390.96,243.94 L391.23,243.93 L391.49,243.91 L391.75,243.89 L392.02,243.87 L392.28,243.86 L392.55,243.84 L392.81,243.82 L393.08,243.80 L393.34,243.78 L393.61,243.76 L393.87,243.75 L394.14,243.73 L394.40,243.71 L394.67,243.69 L394.93,243.67 L395.19,243.65 L395.46,243.63 L395.72,243.61 L395.99,243.59 L396.25,243.57 L396.52,243.55 L396.78,243.53 L397.05,243.51 L397.31,243.49 L397.58,243.47 L397.84,243.45 L398.11,243.43 L398.37,243.40 L398.63,243.38 L398.90,243.36 L399.16,243.34 L399.43,243.32 L399.69,243.30 L399.96,243.28 L400.22,243.25 L400.49,243.23 L400.75,243.21 L401.02,243.19 L401.28,243.17 L401.54,243.14 L401.81,243.12 L402.07,243.10 L402.34,243.08 L402.60,243.05 L402.87,243.03 L403.13,243.01 L403.40,242.98 L403.66,242.96 L403.93,242.94 L404.19,242.91 L404.46,242.89 L404.72,242.86 L404.98,242.84 L405.25,242.82 L405.51,242.79 L405.78,242.77 L406.04,242.74 L406.31,242.72 L406.57,242.69 L406.84,242.67 L407.10,242.64 L407.37,242.61 L407.63,242.59 L407.90,242.56 L408.16,242.54 L408.42,242.51 L408.69,242.48 L408.95,242.45 L409.22,242.43 L409.48,242.40 L409.75,242.37 L410.01,242.34 L410.28,242.31 L410.54,242.28 L410.81,242.25 L411.07,242.22 L411.34,242.19 L411.60,242.16 L411.86,242.13 L412.13,242.10 L412.39,242.06 L412.66,242.03 L412.92,242.00 L413.19,241.96 L413.45,241.93 L413.72,241.90 L413.98,241.86 L414.25,241.82 L414.51,241.79 L414.77,241.75 L415.04,241.71 L415.30,241.67 L415.57,241.63 L415.83,241.59 L416.10,241.55 L416.36,241.51 L416.63,241.47 L416.89,241.43 L417.16,241.38 L417.42,241.34 L417.69,241.29 L417.95,241.24 L418.21,241.20 L418.48,241.15 L418.74,241.10 L419.01,241.05 L419.27,241.00 L419.54,240.95 L419.80,240.89 L420.07,240.84 L420.33,240.78 L420.60,240.73 L420.86,240.67 L421.13,240.61 L421.39,240.55 L421.65,240.49 L421.92,240.42 L422.18,240.36 L422.45,240.29 L422.71,240.23 L422.98,240.16 L423.24,240.09 L423.51,240.02 L423.77,239.95 L424.04,239.87 L424.30,239.80 L424.56,239.72 L424.83,239.64 L425.09,239.56 L425.36,239.48 L425.62,239.40 L425.89,239.31 L426.15,239.23 L426.42,239.14 L426.68,239.05 L426.95,238.96 L427.21,238.87 L427.48,238.77 L427.74,238.67 L428.00,238.57 L428.27,238.47 L428.53,238.37 L428.80,238.27 L429.06,238.16 L429.33,238.05 L429.59,237.94 L429.86,237.83 L430.12,237.71 L430.39,237.60 L430.65,237.48 L430.92,237.36 L431.18,237.23 L431.44,237.11 L431.71,236.98 L431.97,236.85 L432.24,236.72 L432.50,236.59 L432.77,236.45 L433.03,236.31 L433.30,236.17 L433.56,236.03 L433.83,235.89 L434.09,235.74 L434.36,235.59 L434.62,235.44 L434.88,235.28 L435.15,235.13 L435.41,234.97 L435.68,234.80 L435.94,234.64 L436.21,234.47 L436.47,234.31 L436.74,234.13 L437.00,233.96 L437.27,233.79 L437.53,233.61 L437.80,233.43 L438.06,233.24 L438.32,233.06 L438.59,232.87 L438.85,232.68 L439.12,232.49 L439.38,232.29 L439.65,232.09 L439.91,231.89 L440.18,231.69 L440.44,231.48 L440.71,231.28 L440.97,231.07 L441.23,230.85 L441.50,230.64 L441.76,230.42 L442.03,230.20 L442.29,229.98 L442.56,229.76 L442.82,229.53 L443.09,229.30 L443.35,229.07 L443.62,228.84 L443.88,228.60 L444.15,228.36 L444.41,228.12 L444.67,227.88 L444.94,227.64 L445.20,227.39 L445.47,227.14 L445.73,226.89 L446.00,226.64 L446.26,226.38 L446.53,226.12 L446.79,225.86 L447.06,225.60 L447.32,225.34 L447.59,225.07 L447.85,224.81 L448.11,224.54 L448.38,224.27 L448.64,223.99 L448.91,223.72 L449.17,223.44 L449.44,223.17 L449.70,222.89 L449.97,222.61 L450.23,222.32 L450.50,222.04 L450.76,221.75 L451.03,221.47 L451.29,221.18 L451.55,220.89 L451.82,220.60 L452.08,220.30 L452.35,220.01 L452.61,219.72 L452.88,219.42 L453.14,219.12 L453.41,218.83 L453.67,218.53 L453.94,218.23 L454.20,217.93 L454.46,217.63 L454.73,217.33 L454.99,217.02 L455.26,216.72 L455.52,216.42 L455.79,216.11 L456.05,215.81 L456.32,215.50 L456.58,215.20 L456.85,214.89 L457.11,214.59 L457.38,214.28 L457.64,213.98 L457.90,213.67 L458.17,213.36 L458.43,213.06 L458.70,212.75 L458.96,212.45 L459.23,212.14 L459.49,211.84 L459.76,211.54 L460.02,211.23 L460.29,210.93 L460.55,210.63 L460.82,210.33 L461.08,210.03 L461.34,209.73 L461.61,209.43 L461.87,209.13 L462.14,208.84 L462.40,208.54 L462.67,208.25 L462.93,207.95 L463.20,207.66 L463.46,207.37 L463.73,207.08 L463.99,206.80 L464.25,206.51 L464.52,206.23 L464.78,205.95 L465.05,205.67 L465.31,205.39 L465.58,205.11 L465.84,204.84 L466.11,204.57 L466.37,204.30 L466.64,204.03 L466.90,203.76 L467.17,203.50 L467.43,203.24 L467.69,202.98 L467.96,202.73 L468.22,202.48 L468.49,202.23 L468.75,201.98 L469.02,201.74 L469.28,201.50 L469.55,201.26 L469.81,201.02 L470.08,200.79 L470.34,200.56 L470.61,200.34 L470.87,200.11 L471.13,199.90 L471.40,199.68 L471.66,199.47 L471.93,199.26 L472.19,199.06 L472.46,198.85 L472.72,198.66 L472.99,198.46 L473.25,198.27 L473.52,198.09 L473.78,197.91 L474.05,197.73 L474.31,197.55 L474.57,197.38 L474.84,197.22 L475.10,197.05 L475.37,196.90 L475.63,196.74 L475.90,196.59 L476.16,196.45 L476.43,196.31 L476.69,196.17 L476.96,196.04 L477.22,195.91 L477.49,195.79 L477.75,195.67 L478.01,195.56 L478.28,195.45 L478.54,195.34 L478.81,195.24 L479.07,195.15 L479.34,195.06 L479.60,194.97 L479.87,194.89 L480.13,194.82 L480.40,194.75 L480.66,194.68 L480.92,194.62 L481.19,194.56 L481.45,194.51 L481.72,194.46 L481.98,194.42 L482.25,194.38 L482.51,194.35 L482.78,194.32 L483.04,194.30 L483.31,194.28 L483.57,194.27 L483.84,194.26 L484.10,194.26 L484.36,194.26 L484.63,194.27 L484.89,194.28 L485.16,194.30 L485.42,194.32 L485.69,194.35 L485.95,194.38 L486.22,194.42 L486.48,194.46 L486.75,194.51 L487.01,194.56 L487.28,194.62 L487.54,194.68 L487.80,194.75 L488.07,194.82 L488.33,194.89 L488.60,194.97 L488.86,195.06 L489.13,195.15 L489.39,195.24 L489.66,195.34 L489.92,195.45 L490.19,195.56 L490.45,195.67 L490.72,195.79 L490.98,195.91 L491.24,196.04 L491.51,196.17 L491.77,196.31 L492.04,196.45 L492.30,196.59 L492.57,196.74 L492.83,196.90 L493.10,197.05 L493.36,197.22 L493.63,197.38 L493.89,197.55 L494.15,197.73 L494.42,197.91 L494.68,198.09 L494.95,198.27 L495.21,198.46 L495.48,198.66 L495.74,198.85 L496.01,199.06 L496.27,199.26 L496.54,199.47 L496.80,199.68 L497.07,199.90 L497.33,200.11 L497.59,200.34 L497.86,200.56 L498.12,200.79 L498.39,201.02 L498.65,201.26 L498.92,201.50 L499.18,201.74 L499.45,201.98 L499.71,202.23 L499.98,202.48 L500.24,202.73 L500.51,202.98 L500.77,203.24 L501.03,203.50 L501.30,203.76 L501.56,204.03 L501.83,204.30 L502.09,204.57 L502.36,204.84 L502.62,205.11 L502.89,205.39 L503.15,205.67 L503.42,205.95 L503.68,206.23 L503.95,206.51 L504.21,206.80 L504.47,207.08 L504.74,207.37 L505.00,207.66 L505.27,207.95 L505.53,208.25 L505.80,208.54 L506.06,208.84 L506.33,209.13 L506.59,209.43 L506.86,209.73 L507.12,210.03 L507.38,210.33 L507.65,210.63 L507.91,210.93 L508.18,211.23 L508.44,211.54 L508.71,211.84 L508.97,212.14 L509.24,212.45 L509.50,212.75 L509.77,213.06 L510.03,213.36 L510.30,213.67 L510.56,213.98 L510.82,214.28 L511.09,214.59 L511.35,214.89 L511.62,215.20 L511.88,215.50 L512.15,215.81 L512.41,216.11 L512.68,216.42 L512.94,216.72 L513.21,217.02 L513.47,217.33 L513.74,217.63 L514.00,217.93 L514.26,218.23 L514.53,218.53 L514.79,218.83 L515.06,219.12 L515.32,219.42 L515.59,219.72 L515.85,220.01 L516.12,220.30 L516.38,220.60 L516.65,220.89 L516.91,221.18 L517.18,221.47 L517.44,221.75 L517.70,222.04 L517.97,222.32 L518.23,222.61 L518.50,222.89 L518.76,223.17 L519.03,223.44 L519.29,223.72 L519.56,223.99 L519.82,224.27 L520.09,224.54 L520.35,224.81 L520.61,225.07 L520.88,225.34 L521.14,225.60 L521.41,225.86 L521.67,226.12 L521.94,226.38 L522.20,226.64 L522.47,226.89 L522.73,227.14 L523.00,227.39 L523.26,227.64 L523.53,227.88 L523.79,228.12 L524.05,228.36 L524.32,228.60 L524.58,228.84 L524.85,229.07 L525.11,229.30 L525.38,229.53 L525.64,229.76 L525.91,229.98 L526.17,230.20 L526.44,230.42 L526.70,230.64 L526.97,230.85 L527.23,231.07 L527.49,231.28 L527.76,231.48 L528.02,231.69 L528.29,231.89 L528.55,232.09 L528.82,232.29 L529.08,232.49 L529.35,232.68 L529.61,232.87 L529.88,233.06 L530.14,233.24 L530.40,233.43 L530.67,233.61 L530.93,233.79 L531.20,233.96 L531.46,234.13 L531.73,234.31 L531.99,234.47 L532.26,234.64 L532.52,234.80 L532.79,234.97 L533.05,235.13 L533.32,235.28 L533.58,235.44 L533.84,235.59 L534.11,235.74 L534.37,235.89 L534.64,236.03 L534.90,236.17 L535.17,236.31 L535.43,236.45 L535.70,236.59 L535.96,236.72 L536.23,236.85 L536.49,236.98 L536.76,237.11 L537.02,237.23 L537.28,237.36 L537.55,237.48 L537.81,237.60 L538.08,237.71 L538.34,237.83 L538.61,237.94 L538.87,238.05 L539.14,238.16 L539.40,238.27 L539.67,238.37 L539.93,238.47 L540.20,238.57 L540.46,238.67 L540.72,238.77 L540.99,238.87 L541.25,238.96 L541.52,239.05 L541.78,239.14 L542.05,239.23 L542.31,239.31 L542.58,239.40 L542.84,239.48 L543.11,239.56 L543.37,239.64 L543.63,239.72 L543.90,239.80 L544.16,239.87 L544.43,239.95 L544.69,240.02 L544.96,240.09 L545.22,240.16 L545.49,240.23 L545.75,240.29 L546.02,240.36 L546.28,240.42 L546.55,240.49 L546.81,240.55 L547.07,240.61 L547.34,240.67 L547.60,240.73 L547.87,240.78 L548.13,240.84 L548.40,240.89 L548.66,240.95 L548.93,241.00 L549.19,241.05 L549.46,241.10 L549.72,241.15 L549.99,241.20 L550.25,241.24 L550.51,241.29 L550.78,241.34 L551.04,241.38 L551.31,241.43 L551.57,241.47 L551.84,241.51 L552.10,241.55 L552.37,241.59 L552.63,241.63 L552.90,241.67 L553.16,241.71 L553.43,241.75 L553.69,241.79 L553.95,241.82 L554.22,241.86 L554.48,241.90 L554.75,241.93 L555.01,241.96 L555.28,242.00 L555.54,242.03 L555.81,242.06 L556.07,242.10 L556.34,242.13 L556.60,242.16 L556.87,242.19 L557.13,242.22 L557.39,242.25 L557.66,242.28 L557.92,242.31 L558.19,242.34 L558.45,242.37 L558.72,242.40 L558.98,242.43 L559.25,242.45 L559.51,242.48 L559.78,242.51 L560.04,242.54 L560.30,242.56 L560.57,242.59 L560.83,242.61 L561.10,242.64 L561.36,242.67 L561.63,242.69 L561.89,242.72 L562.16,242.74 L562.42,242.77 L562.69,242.79 L562.95,242.82 L563.22,242.84 L563.48,242.86 L563.74,242.89 L564.01,242.91 L564.27,242.94 L564.54,242.96 L564.80,242.98 L565.07,243.01 L565.33,243.03 L565.60,243.05 L565.86,243.08 L566.13,243.10 L566.39,243.12 L566.66,243.14 L566.92,243.17 L567.18,243.19 L567.45,243.21 L567.71,243.23 L567.98,243.25 L568.24,243.28 L568.51,243.30 L568.77,243.32 L569.04,243.34 L569.30,243.36 L569.57,243.38 L569.83,243.40 L570.10,243.43 L570.36,243.45 L570.62,243.47 L570.89,243.49 L571.15,243.51 L571.42,243.53 L571.68,243.55 L571.95,243.57 L572.21,243.59 L572.48,243.61 L572.74,243.63 L573.01,243.65 L573.27,243.67 L573.53,243.69 L573.80,243.71 L574.06,243.73 L574.33,243.75 L574.59,243.76 L574.86,243.78 L575.12,243.80 L575.39,243.82 L575.65,243.84 L575.92,243.86 L576.18,243.87 L576.45,243.89 L576.71,243.91 L576.97,243.93 L577.24,243.94 L577.50,243.96 L577.77,243.98 L578.03,243.99 L578.30,244.01 L578.56,244.03 L578.83,244.04 L579.09,244.06 L579.36,244.07 L579.62,244.09 L579.89,244.10 L580.15,244.12 L580.41,244.13 L580.68,244.15 L580.94,244.16 L581.21,244.18 L581.47,244.19 L581.74,244.20 L582.00,244.22 L582.27,244.23 L582.53,244.24 L582.80,244.26 L583.06,244.27 L583.33,244.28 L583.59,244.29 L583.85,244.30 L584.12,244.31 L584.38,244.32 L584.65,244.34 L584.91,244.35 L585.18,244.36 L585.44,244.37 L585.71,244.38 L585.97,244.38 L586.24,244.39 L586.50,244.40 L586.76,244.41 L587.03,244.42 L587.29,244.43 L587.56,244.43 L587.82,244.44 L588.09,244.45 L588.35,244.46 L588.62,244.46 L588.88,244.47 L589.15,244.48 L589.41,244.48 L589.68,244.49 L589.94,244.49 L590.20,244.50 L590.47,244.50 L590.73,244.51 L591.00,244.51 L591.26,244.51 L591.53,244.52 L591.79,244.52 L592.06,244.52 L592.32,244.53 L592.59,244.53 L592.85,244.53 L593.12,244.54 L593.38,244.54 L593.64,244.54 L593.91,244.54 L594.17,244.54 L594.44,244.54 L594.70,244.54 L594.97,244.55 L595.23,244.55 L595.50,244.55 L595.76,244.55 L596.03,244.55 L596.29,244.55 L596.56,244.55 L596.82,244.55 L597.08,244.54 L597.35,244.54 L597.61,244.54 L597.88,244.54 L598.14,244.54 L598.41,244.54 L598.67,244.54 L598.94,244.54 L599.20,244.53 L599.47,244.53 L599.73,244.53 L599.99,244.53 L600.26,244.52 L600.52,244.52 L600.79,244.52 L601.05,244.52 L601.32,244.51 L601.58,244.51 L601.85,244.51 L602.11,244.51 L602.38,244.50 L602.64,244.50 L602.91,244.50 L603.17,244.49 L603.43,244.49 L603.70,244.49 L603.96,244.48 L604.23,244.48 L604.49,244.48 L604.76,244.47 L605.02,244.47 L605.29,244.47 L605.55,244.46 L605.82,244.46 L606.08,244.46 L606.35,244.45 L606.61,244.45 L606.87,244.45 L607.14,244.44 L607.40,244.44 L607.67,244.44 L607.93,244.43 L608.20,244.43 L608.46,244.43 L608.73,244.42 L608.99,244.42 L609.26,244.42 L609.52,244.42 L609.79,244.41 L610.05,244.41 L610.31,244.41 L610.58,244.40 L610.84,244.40 L611.11,244.40 L611.37,244.40 L611.64,244.40 L611.90,244.39 L612.17,244.39 L612.43,244.39 L612.70,244.39 L612.96,244.39 L613.22,244.38 L613.49,244.38 L613.75,244.38 L614.02,244.38 L614.28,244.38 L614.55,244.38 L614.81,244.38 L615.08,244.38 L615.34,244.38 L615.61,244.37 L615.87,244.37 L616.14,244.37 L616.40,244.37" stroke="#008000"/>
</g>
<rect x="351.8" y="0.45" width="264.60" height="255.70" fill="none" stroke="#000" stroke-width="1" stroke-linejoin="miter"/>
<line x1="348.10" y1="244.35" x2="351.80" y2="244.35" stroke="#000" stroke-width="1"/>
<line x1="348.10" y1="197.86" x2="351.80" y2="197.86" stroke="#000" stroke-width="1"/>
<line x1="348.10" y1="151.37" x2="351.80" y2="151.37" stroke="#000" stroke-width="1"/>
<line x1="348.10" y1="104.88" x2="351.80" y2="104.88" stroke="#000" stroke-width="1"/>
<line x1="348.10" y1="58.39" x2="351.80" y2="58.39" stroke="#000" stroke-width="1"/>
<line x1="348.10" y1="11.90" x2="351.80" y2="11.90" stroke="#000" stroke-width="1"/>
<line x1="378.26" y1="256.15" x2="378.26" y2="259.85" stroke="#000" stroke-width="1"/>
<line x1="431.18" y1="256.15" x2="431.18" y2="259.85" stroke="#000" stroke-width="1"/>
<line x1="484.10" y1="256.15" x2="484.10" y2="259.85" stroke="#000" stroke-width="1"/>
<line x1="537.02" y1="256.15" x2="537.02" y2="259.85" stroke="#000" stroke-width="1"/>
<line x1="589.94" y1="256.15" x2="589.94" y2="259.85" stroke="#000" stroke-width="1"/>
<rect x="246.50" y="5.5" width="57.8" height="45.4" rx="2.5" ry="2.5" fill="#fff" fill-opacity="0.8" stroke="#cccccc" stroke-width="1"/>
<line x1="249.30" y1="13.0" x2="271.10" y2="13.0" stroke="#0000ff" stroke-width="2"/>
<line x1="249.30" y1="27.75" x2="271.10" y2="27.75" stroke="#ff0000" stroke-width="2"/>
<line x1="249.30" y1="42.45" x2="271.10" y2="42.45" stroke="#008000" stroke-width="2"/>
<rect x="553.90" y="5.5" width="57.8" height="45.4" rx="2.5" ry="2.5" fill="#fff" fill-opacity="0.8" stroke="#cccccc" stroke-width="1"/>
<line x1="556.70" y1="13.0" x2="578.50" y2="13.0" stroke="#0000ff" stroke-width="2"/>
<line x1="556.70" y1="27.75" x2="578.50" y2="27.75" stroke="#ff0000" stroke-width="2"/>
<line x1="556.70" y1="42.45" x2="578.50" y2="42.45" stroke="#008000" stroke-width="2"/>
</svg>
<svg width="617" height="294" viewBox="0 0 617 294" style="position:absolute;left:0;top:0;will-change:transform"><text transform="translate(16.71,249.61) scale(1.1154,1)" font-family="Liberation Serif" font-size="15.26" fill="#000" stroke="#000" stroke-width="0.15">0.0</text>
<text transform="translate(16.72,203.12) scale(1.1071,1)" font-family="Liberation Serif" font-size="15.26" fill="#000" stroke="#000" stroke-width="0.15">0.2</text>
<text transform="translate(16.72,156.63) scale(1.1057,1)" font-family="Liberation Serif" font-size="15.26" fill="#000" stroke="#000" stroke-width="0.15">0.4</text>
<text transform="translate(16.72,110.14) scale(1.1103,1)" font-family="Liberation Serif" font-size="15.26" fill="#000" stroke="#000" stroke-width="0.15">0.6</text>
<text transform="translate(16.71,63.65) scale(1.1154,1)" font-family="Liberation Serif" font-size="15.26" fill="#000" stroke="#000" stroke-width="0.15">0.8</text>
<text transform="translate(16.65,17.16) scale(1.1191,1)" font-family="Liberation Serif" font-size="15.26" fill="#000" stroke="#000" stroke-width="0.15">1.0</text>
<text transform="translate(324.11,249.61) scale(1.1154,1)" font-family="Liberation Serif" font-size="15.26" fill="#000" stroke="#000" stroke-width="0.15">0.0</text>
<text transform="translate(324.12,203.12) scale(1.1071,1)" font-family="Liberation Serif" font-size="15.26" fill="#000" stroke="#000" stroke-width="0.15">0.2</text>
<text transform="translate(324.12,156.63) scale(1.1057,1)" font-family="Liberation Serif" font-size="15.26" fill="#000" stroke="#000" stroke-width="0.15">0.4</text>
<text transform="translate(324.12,110.14) scale(1.1103,1)" font-family="Liberation Serif" font-size="15.26" fill="#000" stroke="#000" stroke-width="0.15">0.6</text>
<text transform="translate(324.11,63.65) scale(1.1154,1)" font-family="Liberation Serif" font-size="15.26" fill="#000" stroke="#000" stroke-width="0.15">0.8</text>
<text transform="translate(324.05,17.16) scale(1.1191,1)" font-family="Liberation Serif" font-size="15.26" fill="#000" stroke="#000" stroke-width="0.15">1.0</text>
<text transform="translate(52.67,272.86) scale(1.1109,1)" font-family="Liberation Sans" font-size="14.67" fill="#000" stroke="#000" stroke-width="0.15">−100</text>
<text transform="translate(109.94,272.86) scale(1.1272,1)" font-family="Liberation Sans" font-size="14.67" fill="#000" stroke="#000" stroke-width="0.15">−50</text>
<text transform="translate(172.65,272.86) scale(0.9878,1)" font-family="Liberation Sans" font-size="14.67" fill="#000" stroke="#000" stroke-width="0.15">0</text>
<text transform="translate(221.37,272.86) scale(1.0222,1)" font-family="Liberation Sans" font-size="14.67" fill="#000" stroke="#000" stroke-width="0.15">50</text>
<text transform="translate(269.83,272.86) scale(1.0406,1)" font-family="Liberation Sans" font-size="14.67" fill="#000" stroke="#000" stroke-width="0.15">100</text>
<text transform="translate(360.07,272.86) scale(1.1109,1)" font-family="Liberation Sans" font-size="14.67" fill="#000" stroke="#000" stroke-width="0.15">−100</text>
<text transform="translate(417.34,272.86) scale(1.1272,1)" font-family="Liberation Sans" font-size="14.67" fill="#000" stroke="#000" stroke-width="0.15">−50</text>
<text transform="translate(480.05,272.86) scale(0.9878,1)" font-family="Liberation Sans" font-size="14.67" fill="#000" stroke="#000" stroke-width="0.15">0</text>
<text transform="translate(528.77,272.86) scale(1.0222,1)" font-family="Liberation Sans" font-size="14.67" fill="#000" stroke="#000" stroke-width="0.15">50</text>
<text transform="translate(577.23,272.86) scale(1.0406,1)" font-family="Liberation Sans" font-size="14.67" fill="#000" stroke="#000" stroke-width="0.15">100</text>
<text transform="translate(155.54,289.60) scale(1.0716,1)" font-family="Liberation Sans" font-style="italic" font-size="13.84" fill="#000" stroke="#000" stroke-width="0.3">z</text>
<text transform="translate(167.24,288.81) scale(0.9335,1)" font-family="Liberation Serif" font-size="13.44" fill="#000" stroke="#000" stroke-width="0.15">(</text>
<text transform="translate(170.92,289.28) scale(1.2967,1)" font-family="Liberation Serif" font-size="14.37" fill="#000" stroke="#000" stroke-width="0.15">μ</text>
<text transform="translate(180.75,289.60) scale(1.0520,1)" font-family="Liberation Serif" font-size="15.10" fill="#000" stroke="#000" stroke-width="0.15">m</text>
<text transform="translate(193.77,288.81) scale(0.9244,1)" font-family="Liberation Serif" font-size="13.44" fill="#000" stroke="#000" stroke-width="0.15">)</text>
<text transform="translate(462.94,289.60) scale(1.0716,1)" font-family="Liberation Sans" font-style="italic" font-size="13.84" fill="#000" stroke="#000" stroke-width="0.3">z</text>
<text transform="translate(474.64,288.81) scale(0.9335,1)" font-family="Liberation Serif" font-size="13.44" fill="#000" stroke="#000" stroke-width="0.15">(</text>
<text transform="translate(478.32,289.28) scale(1.2967,1)" font-family="Liberation Serif" font-size="14.37" fill="#000" stroke="#000" stroke-width="0.15">μ</text>
<text transform="translate(488.15,289.60) scale(1.0520,1)" font-family="Liberation Serif" font-size="15.10" fill="#000" stroke="#000" stroke-width="0.15">m</text>
<text transform="translate(501.17,288.81) scale(0.9244,1)" font-family="Liberation Serif" font-size="13.44" fill="#000" stroke="#000" stroke-width="0.15">)</text>
<text transform="translate(54.76,16.55) scale(1.1486,1)" font-family="Liberation Serif" font-size="15.74" fill="#000" stroke="#000" stroke-width="0.15">a</text>
<text transform="translate(63.48,15.68) scale(0.9244,1)" font-family="Liberation Serif" font-size="13.91" fill="#000" stroke="#000" stroke-width="0.15">)</text>
<text transform="translate(362.51,16.56) scale(1.1014,1)" font-family="Liberation Serif" font-size="15.17" fill="#000" stroke="#000" stroke-width="0.15">b</text>
<text transform="translate(371.48,15.68) scale(0.9244,1)" font-family="Liberation Serif" font-size="13.91" fill="#000" stroke="#000" stroke-width="0.15">)</text>
<g transform="translate(10.2,177.23) rotate(-90)"><text transform="translate(0.23,0.00) scale(0.9742,1)" font-family="Liberation Serif" font-size="14.86" fill="#000" stroke="#000" stroke-width="0.15">I</text>
<text transform="translate(5.36,0.00) scale(1.1069,1)" font-family="Liberation Serif" font-size="15.10" fill="#000" stroke="#000" stroke-width="0.15">n</text>
<text transform="translate(14.07,0.04) scale(1.1504,1)" font-family="Liberation Serif" font-size="16.11" fill="#000" stroke="#000" stroke-width="0.15">t</text>
<text transform="translate(19.16,0.05) scale(1.1670,1)" font-family="Liberation Serif" font-size="15.20" fill="#000" stroke="#000" stroke-width="0.15">e</text>
<text transform="translate(27.19,0.00) scale(1.1069,1)" font-family="Liberation Serif" font-size="15.10" fill="#000" stroke="#000" stroke-width="0.15">n</text>
<text transform="translate(35.72,0.05) scale(1.1432,1)" font-family="Liberation Serif" font-size="15.20" fill="#000" stroke="#000" stroke-width="0.15">s</text>
<text transform="translate(42.70,0.00) scale(0.9859,1)" font-family="Liberation Serif" font-size="14.79" fill="#000" stroke="#000" stroke-width="0.15">i</text>
<text transform="translate(47.00,0.04) scale(1.1504,1)" font-family="Liberation Serif" font-size="16.11" fill="#000" stroke="#000" stroke-width="0.15">t</text>
<text transform="translate(51.91,-0.19) scale(1.0645,1)" font-family="Liberation Serif" font-size="14.66" fill="#000" stroke="#000" stroke-width="0.15">y</text>
<text transform="translate(64.41,-0.79) scale(0.9335,1)" font-family="Liberation Serif" font-size="13.44" fill="#000" stroke="#000" stroke-width="0.15">(</text>
<text transform="translate(69.17,0.05) scale(1.1486,1)" font-family="Liberation Serif" font-size="15.20" fill="#000" stroke="#000" stroke-width="0.15">a</text>
<text transform="translate(77.39,-0.02) scale(0.9792,1)" font-family="Liberation Serif" font-size="14.75" fill="#000" stroke="#000" stroke-width="0.15">.</text>
<text transform="translate(81.46,0.05) scale(1.0841,1)" font-family="Liberation Serif" font-size="15.17" fill="#000" stroke="#000" stroke-width="0.15">u</text>
<text transform="translate(90.21,-0.02) scale(0.9792,1)" font-family="Liberation Serif" font-size="14.75" fill="#000" stroke="#000" stroke-width="0.15">.</text>
<text transform="translate(94.65,-0.79) scale(0.9244,1)" font-family="Liberation Serif" font-size="13.44" fill="#000" stroke="#000" stroke-width="0.15">)</text></g>
<text transform="translate(278.30,15.93) scale(1.0084,1)" font-family="Liberation Serif" font-size="11.78" fill="#000" stroke="#000" stroke-width="0.2">0</text>
<circle cx="288.35" cy="10.10" r="1.2" fill="none" stroke="#000" stroke-width="1.0"/>
<text transform="translate(278.22,30.37) scale(1.0993,1)" font-family="Liberation Serif" font-size="11.30" fill="#000" stroke="#000" stroke-width="0.2">2,5</text>
<circle cx="297.40" cy="24.95" r="1.2" fill="none" stroke="#000" stroke-width="1.0"/>
<text transform="translate(278.27,45.63) scale(1.0032,1)" font-family="Liberation Serif" font-size="11.76" fill="#000" stroke="#000" stroke-width="0.2">5</text>
<circle cx="288.50" cy="39.80" r="1.2" fill="none" stroke="#000" stroke-width="1.0"/>
<text transform="translate(585.70,15.93) scale(1.0084,1)" font-family="Liberation Serif" font-size="11.78" fill="#000" stroke="#000" stroke-width="0.2">0</text>
<circle cx="595.75" cy="10.10" r="1.2" fill="none" stroke="#000" stroke-width="1.0"/>
<text transform="translate(585.62,30.37) scale(1.0993,1)" font-family="Liberation Serif" font-size="11.30" fill="#000" stroke="#000" stroke-width="0.2">2,5</text>
<circle cx="604.80" cy="24.95" r="1.2" fill="none" stroke="#000" stroke-width="1.0"/>
<text transform="translate(585.67,45.63) scale(1.0032,1)" font-family="Liberation Serif" font-size="11.76" fill="#000" stroke="#000" stroke-width="0.2">5</text>
<circle cx="595.90" cy="39.80" r="1.2" fill="none" stroke="#000" stroke-width="1.0"/></svg>
</body></html>
